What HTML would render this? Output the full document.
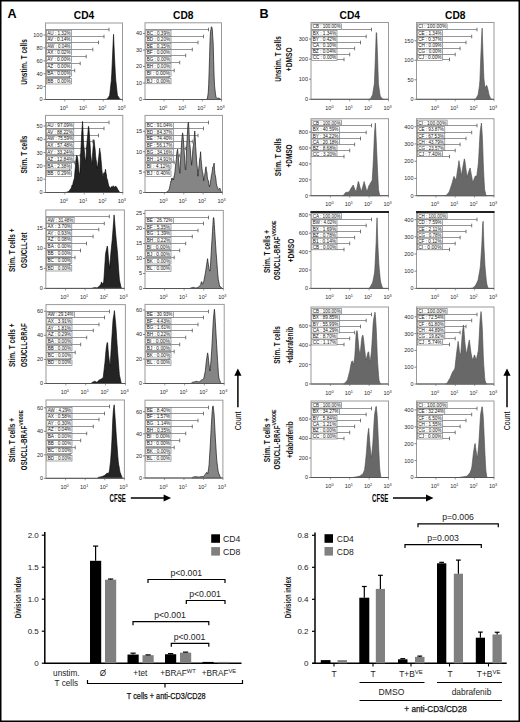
<!DOCTYPE html><html><head><meta charset="utf-8"><style>html,body{margin:0;padding:0;background:#fff;}svg{display:block;}</style></head><body><svg width="520" height="722" viewBox="0 0 520 722">
<rect x="0" y="0" width="520" height="722" fill="#fff"/>
<text x="12.00" y="17.90" font-family="Liberation Sans, sans-serif" font-size="12.6" font-weight="bold" text-anchor="middle" fill="#000" >A</text>
<text x="264.00" y="18.20" font-family="Liberation Sans, sans-serif" font-size="12.6" font-weight="bold" text-anchor="middle" fill="#000" >B</text>
<text x="84.00" y="18.60" font-family="Liberation Sans, sans-serif" font-size="10.2" font-weight="bold" text-anchor="middle" fill="#000" >CD4</text>
<text x="183.25" y="18.60" font-family="Liberation Sans, sans-serif" font-size="10.2" font-weight="bold" text-anchor="middle" fill="#000" >CD8</text>
<text x="349.75" y="18.60" font-family="Liberation Sans, sans-serif" font-size="10.2" font-weight="bold" text-anchor="middle" fill="#000" >CD4</text>
<text x="455.25" y="18.60" font-family="Liberation Sans, sans-serif" font-size="10.2" font-weight="bold" text-anchor="middle" fill="#000" >CD8</text>
<line x1="45.5" y1="29.50" x2="109.00" y2="29.50" stroke="#8a8a8a" stroke-width="0.9"/>
<line x1="109.00" y1="27.70" x2="109.00" y2="31.30" stroke="#666" stroke-width="0.9"/>
<rect x="46.30" y="30.40" width="25.20" height="5.6" fill="#fff" stroke="#6a6a6a" stroke-width="0.6"/>
<text x="47.20" y="34.80" font-family="Liberation Sans, sans-serif" font-size="4.6" fill="#111" textLength="23.40" lengthAdjust="spacingAndGlyphs">AU : 1.32%</text>
<line x1="45.5" y1="36.50" x2="104.00" y2="36.50" stroke="#8a8a8a" stroke-width="0.9"/>
<line x1="104.00" y1="34.70" x2="104.00" y2="38.30" stroke="#666" stroke-width="0.9"/>
<rect x="46.30" y="36.80" width="25.20" height="5.6" fill="#fff" stroke="#6a6a6a" stroke-width="0.6"/>
<text x="47.20" y="41.20" font-family="Liberation Sans, sans-serif" font-size="4.6" fill="#111" textLength="23.40" lengthAdjust="spacingAndGlyphs">AV : 0.14%</text>
<line x1="45.5" y1="42.50" x2="98.50" y2="42.50" stroke="#8a8a8a" stroke-width="0.9"/>
<line x1="98.50" y1="40.70" x2="98.50" y2="44.30" stroke="#666" stroke-width="0.9"/>
<rect x="46.30" y="43.50" width="25.20" height="5.6" fill="#fff" stroke="#6a6a6a" stroke-width="0.6"/>
<text x="47.20" y="47.90" font-family="Liberation Sans, sans-serif" font-size="4.6" fill="#111" textLength="23.40" lengthAdjust="spacingAndGlyphs">AW : 0.04%</text>
<line x1="45.5" y1="49.50" x2="92.80" y2="49.50" stroke="#8a8a8a" stroke-width="0.9"/>
<line x1="92.80" y1="47.70" x2="92.80" y2="51.30" stroke="#666" stroke-width="0.9"/>
<rect x="46.30" y="49.90" width="25.20" height="5.6" fill="#fff" stroke="#6a6a6a" stroke-width="0.6"/>
<text x="47.20" y="54.30" font-family="Liberation Sans, sans-serif" font-size="4.6" fill="#111" textLength="23.40" lengthAdjust="spacingAndGlyphs">AX : 0.02%</text>
<line x1="45.5" y1="56.50" x2="86.20" y2="56.50" stroke="#8a8a8a" stroke-width="0.9"/>
<line x1="86.20" y1="54.70" x2="86.20" y2="58.30" stroke="#666" stroke-width="0.9"/>
<rect x="46.30" y="56.70" width="25.20" height="5.6" fill="#fff" stroke="#6a6a6a" stroke-width="0.6"/>
<text x="47.20" y="61.10" font-family="Liberation Sans, sans-serif" font-size="4.6" fill="#111" textLength="23.40" lengthAdjust="spacingAndGlyphs">AY : 0.00%</text>
<line x1="45.5" y1="63.50" x2="80.20" y2="63.50" stroke="#8a8a8a" stroke-width="0.9"/>
<line x1="80.20" y1="61.70" x2="80.20" y2="65.30" stroke="#666" stroke-width="0.9"/>
<rect x="46.30" y="63.70" width="25.20" height="5.6" fill="#fff" stroke="#6a6a6a" stroke-width="0.6"/>
<text x="47.20" y="68.10" font-family="Liberation Sans, sans-serif" font-size="4.6" fill="#111" textLength="23.40" lengthAdjust="spacingAndGlyphs">AZ : 0.00%</text>
<line x1="45.5" y1="70.50" x2="74.70" y2="70.50" stroke="#8a8a8a" stroke-width="0.9"/>
<line x1="74.70" y1="68.70" x2="74.70" y2="72.30" stroke="#666" stroke-width="0.9"/>
<rect x="46.30" y="71.00" width="25.20" height="5.6" fill="#fff" stroke="#6a6a6a" stroke-width="0.6"/>
<text x="47.20" y="75.40" font-family="Liberation Sans, sans-serif" font-size="4.6" fill="#111" textLength="23.40" lengthAdjust="spacingAndGlyphs">BA : 0.00%</text>
<line x1="45.5" y1="77.50" x2="69.70" y2="77.50" stroke="#8a8a8a" stroke-width="0.9"/>
<line x1="69.70" y1="75.70" x2="69.70" y2="79.30" stroke="#666" stroke-width="0.9"/>
<rect x="46.30" y="78.40" width="25.20" height="5.6" fill="#fff" stroke="#6a6a6a" stroke-width="0.6"/>
<text x="47.20" y="82.80" font-family="Liberation Sans, sans-serif" font-size="4.6" fill="#111" textLength="23.40" lengthAdjust="spacingAndGlyphs">BB : 0.00%</text>
<path d="M105.00,99.50L105.00,99.50L105.45,99.37L105.90,99.24L106.35,99.10L106.80,98.97L107.25,98.85L107.70,98.36L108.15,97.66L108.60,96.99L109.05,96.23L109.50,95.66L109.95,93.02L110.40,88.82L110.85,84.43L111.30,80.63L111.75,73.63L112.20,63.64L112.65,53.99L113.10,43.39L113.55,34.38L114.00,45.22L114.45,56.03L114.90,64.77L115.35,74.06L115.80,80.45L116.25,84.44L116.70,88.75L117.15,93.02L117.60,95.71L118.05,96.30L118.50,96.96L118.95,97.61L119.40,98.31L119.85,98.88L120.30,99.11L120.75,99.37L121.00,99.50Z" fill="#242424" stroke="#000" stroke-width="0.6"/>
<rect x="45.5" y="23" width="77.0" height="76.5" fill="none" stroke="#9a9a9a" stroke-width="1"/>
<line x1="43.5" y1="99.50" x2="45.5" y2="99.50" stroke="#666" stroke-width="0.8"/>
<text x="42.50" y="101.40" font-family="Liberation Sans, sans-serif" font-size="5.5" font-weight="normal" text-anchor="end" fill="#2a2a2a" >0</text>
<line x1="43.5" y1="86.60" x2="45.5" y2="86.60" stroke="#666" stroke-width="0.8"/>
<text x="42.50" y="88.50" font-family="Liberation Sans, sans-serif" font-size="5.5" font-weight="normal" text-anchor="end" fill="#2a2a2a" >20</text>
<line x1="43.5" y1="73.70" x2="45.5" y2="73.70" stroke="#666" stroke-width="0.8"/>
<text x="42.50" y="75.60" font-family="Liberation Sans, sans-serif" font-size="5.5" font-weight="normal" text-anchor="end" fill="#2a2a2a" >40</text>
<line x1="43.5" y1="60.80" x2="45.5" y2="60.80" stroke="#666" stroke-width="0.8"/>
<text x="42.50" y="62.70" font-family="Liberation Sans, sans-serif" font-size="5.5" font-weight="normal" text-anchor="end" fill="#2a2a2a" >60</text>
<line x1="43.5" y1="47.90" x2="45.5" y2="47.90" stroke="#666" stroke-width="0.8"/>
<text x="42.50" y="49.80" font-family="Liberation Sans, sans-serif" font-size="5.5" font-weight="normal" text-anchor="end" fill="#2a2a2a" >80</text>
<line x1="43.5" y1="35.00" x2="45.5" y2="35.00" stroke="#666" stroke-width="0.8"/>
<text x="42.50" y="36.90" font-family="Liberation Sans, sans-serif" font-size="5.5" font-weight="normal" text-anchor="end" fill="#2a2a2a" >100</text>
<line x1="64.75" y1="99.5" x2="64.75" y2="101.5" stroke="#777" stroke-width="0.7"/>
<text x="63.75" y="110.20" font-family="Liberation Sans, sans-serif" font-size="5.5" fill="#2a2a2a" text-anchor="middle">10<tspan dy="-2.2" font-size="3.8">0</tspan></text>
<line x1="84.00" y1="99.5" x2="84.00" y2="101.5" stroke="#777" stroke-width="0.7"/>
<text x="83.00" y="110.20" font-family="Liberation Sans, sans-serif" font-size="5.5" fill="#2a2a2a" text-anchor="middle">10<tspan dy="-2.2" font-size="3.8">1</tspan></text>
<line x1="103.25" y1="99.5" x2="103.25" y2="101.5" stroke="#777" stroke-width="0.7"/>
<text x="102.25" y="110.20" font-family="Liberation Sans, sans-serif" font-size="5.5" fill="#2a2a2a" text-anchor="middle">10<tspan dy="-2.2" font-size="3.8">2</tspan></text>
<line x1="122.50" y1="99.5" x2="122.50" y2="101.5" stroke="#777" stroke-width="0.7"/>
<text x="121.50" y="110.20" font-family="Liberation Sans, sans-serif" font-size="5.5" fill="#2a2a2a" text-anchor="middle">10<tspan dy="-2.2" font-size="3.8">3</tspan></text>
<line x1="45.5" y1="99.5" x2="122.5" y2="99.5" stroke="#555" stroke-width="1"/>
<line x1="145" y1="29.50" x2="208.50" y2="29.50" stroke="#8a8a8a" stroke-width="0.9"/>
<line x1="208.50" y1="27.70" x2="208.50" y2="31.30" stroke="#666" stroke-width="0.9"/>
<rect x="145.80" y="30.20" width="25.20" height="5.6" fill="#fff" stroke="#6a6a6a" stroke-width="0.6"/>
<text x="146.70" y="34.60" font-family="Liberation Sans, sans-serif" font-size="4.6" fill="#111" textLength="23.40" lengthAdjust="spacingAndGlyphs">BC : 0.39%</text>
<line x1="145" y1="36.50" x2="203.50" y2="36.50" stroke="#8a8a8a" stroke-width="0.9"/>
<line x1="203.50" y1="34.70" x2="203.50" y2="38.30" stroke="#666" stroke-width="0.9"/>
<rect x="145.80" y="36.60" width="25.20" height="5.6" fill="#fff" stroke="#6a6a6a" stroke-width="0.6"/>
<text x="146.70" y="41.00" font-family="Liberation Sans, sans-serif" font-size="4.6" fill="#111" textLength="23.40" lengthAdjust="spacingAndGlyphs">BD : 0.20%</text>
<line x1="145" y1="42.50" x2="198.00" y2="42.50" stroke="#8a8a8a" stroke-width="0.9"/>
<line x1="198.00" y1="40.70" x2="198.00" y2="44.30" stroke="#666" stroke-width="0.9"/>
<rect x="145.80" y="43.30" width="25.20" height="5.6" fill="#fff" stroke="#6a6a6a" stroke-width="0.6"/>
<text x="146.70" y="47.70" font-family="Liberation Sans, sans-serif" font-size="4.6" fill="#111" textLength="23.40" lengthAdjust="spacingAndGlyphs">BE : 0.15%</text>
<line x1="145" y1="49.50" x2="192.30" y2="49.50" stroke="#8a8a8a" stroke-width="0.9"/>
<line x1="192.30" y1="47.70" x2="192.30" y2="51.30" stroke="#666" stroke-width="0.9"/>
<rect x="145.80" y="49.70" width="25.20" height="5.6" fill="#fff" stroke="#6a6a6a" stroke-width="0.6"/>
<text x="146.70" y="54.10" font-family="Liberation Sans, sans-serif" font-size="4.6" fill="#111" textLength="23.40" lengthAdjust="spacingAndGlyphs">BF : 0.00%</text>
<line x1="145" y1="55.50" x2="185.70" y2="55.50" stroke="#8a8a8a" stroke-width="0.9"/>
<line x1="185.70" y1="53.70" x2="185.70" y2="57.30" stroke="#666" stroke-width="0.9"/>
<rect x="145.80" y="56.50" width="25.20" height="5.6" fill="#fff" stroke="#6a6a6a" stroke-width="0.6"/>
<text x="146.70" y="60.90" font-family="Liberation Sans, sans-serif" font-size="4.6" fill="#111" textLength="23.40" lengthAdjust="spacingAndGlyphs">BG : 0.00%</text>
<line x1="145" y1="62.50" x2="179.70" y2="62.50" stroke="#8a8a8a" stroke-width="0.9"/>
<line x1="179.70" y1="60.70" x2="179.70" y2="64.30" stroke="#666" stroke-width="0.9"/>
<rect x="145.80" y="63.50" width="25.20" height="5.6" fill="#fff" stroke="#6a6a6a" stroke-width="0.6"/>
<text x="146.70" y="67.90" font-family="Liberation Sans, sans-serif" font-size="4.6" fill="#111" textLength="23.40" lengthAdjust="spacingAndGlyphs">BH : 0.00%</text>
<line x1="145" y1="70.50" x2="174.20" y2="70.50" stroke="#8a8a8a" stroke-width="0.9"/>
<line x1="174.20" y1="68.70" x2="174.20" y2="72.30" stroke="#666" stroke-width="0.9"/>
<rect x="145.80" y="70.80" width="25.20" height="5.6" fill="#fff" stroke="#6a6a6a" stroke-width="0.6"/>
<text x="146.70" y="75.20" font-family="Liberation Sans, sans-serif" font-size="4.6" fill="#111" textLength="23.40" lengthAdjust="spacingAndGlyphs">BI : 0.00%</text>
<line x1="145" y1="77.50" x2="169.20" y2="77.50" stroke="#8a8a8a" stroke-width="0.9"/>
<line x1="169.20" y1="75.70" x2="169.20" y2="79.30" stroke="#666" stroke-width="0.9"/>
<rect x="145.80" y="78.20" width="25.20" height="5.6" fill="#fff" stroke="#6a6a6a" stroke-width="0.6"/>
<text x="146.70" y="82.60" font-family="Liberation Sans, sans-serif" font-size="4.6" fill="#111" textLength="23.40" lengthAdjust="spacingAndGlyphs">BJ : 0.00%</text>
<path d="M206.00,99.50L206.00,99.50L206.45,99.28L206.90,99.06L207.35,98.81L207.80,95.75L208.25,92.58L208.70,84.48L209.15,70.75L209.60,56.38L210.05,40.52L210.50,31.41L210.95,29.40L211.40,26.69L211.85,27.30L212.30,29.34L212.75,36.92L213.20,43.54L213.65,60.95L214.10,76.22L214.55,85.89L215.00,89.75L215.45,93.93L215.90,96.27L216.35,97.91L216.80,98.38L217.25,98.28L217.70,98.20L218.15,98.12L218.60,98.10L219.05,98.07L219.50,98.39L219.95,98.73L220.40,99.08L220.85,99.39L221.00,99.50Z" fill="#858585" stroke="#1a1a1a" stroke-width="0.7"/>
<rect x="145" y="22.8" width="76.5" height="76.7" fill="none" stroke="#9a9a9a" stroke-width="1"/>
<line x1="143" y1="99.50" x2="145" y2="99.50" stroke="#666" stroke-width="0.8"/>
<text x="142.00" y="101.40" font-family="Liberation Sans, sans-serif" font-size="5.5" font-weight="normal" text-anchor="end" fill="#2a2a2a" >0</text>
<line x1="143" y1="83.00" x2="145" y2="83.00" stroke="#666" stroke-width="0.8"/>
<text x="142.00" y="84.90" font-family="Liberation Sans, sans-serif" font-size="5.5" font-weight="normal" text-anchor="end" fill="#2a2a2a" >10</text>
<line x1="143" y1="66.50" x2="145" y2="66.50" stroke="#666" stroke-width="0.8"/>
<text x="142.00" y="68.40" font-family="Liberation Sans, sans-serif" font-size="5.5" font-weight="normal" text-anchor="end" fill="#2a2a2a" >20</text>
<line x1="143" y1="50.00" x2="145" y2="50.00" stroke="#666" stroke-width="0.8"/>
<text x="142.00" y="51.90" font-family="Liberation Sans, sans-serif" font-size="5.5" font-weight="normal" text-anchor="end" fill="#2a2a2a" >30</text>
<line x1="143" y1="33.50" x2="145" y2="33.50" stroke="#666" stroke-width="0.8"/>
<text x="142.00" y="35.40" font-family="Liberation Sans, sans-serif" font-size="5.5" font-weight="normal" text-anchor="end" fill="#2a2a2a" >40</text>
<line x1="164.12" y1="99.5" x2="164.12" y2="101.5" stroke="#777" stroke-width="0.7"/>
<text x="163.12" y="110.20" font-family="Liberation Sans, sans-serif" font-size="5.5" fill="#2a2a2a" text-anchor="middle">10<tspan dy="-2.2" font-size="3.8">0</tspan></text>
<line x1="183.25" y1="99.5" x2="183.25" y2="101.5" stroke="#777" stroke-width="0.7"/>
<text x="182.25" y="110.20" font-family="Liberation Sans, sans-serif" font-size="5.5" fill="#2a2a2a" text-anchor="middle">10<tspan dy="-2.2" font-size="3.8">1</tspan></text>
<line x1="202.38" y1="99.5" x2="202.38" y2="101.5" stroke="#777" stroke-width="0.7"/>
<text x="201.38" y="110.20" font-family="Liberation Sans, sans-serif" font-size="5.5" fill="#2a2a2a" text-anchor="middle">10<tspan dy="-2.2" font-size="3.8">2</tspan></text>
<line x1="221.50" y1="99.5" x2="221.50" y2="101.5" stroke="#777" stroke-width="0.7"/>
<text x="220.50" y="110.20" font-family="Liberation Sans, sans-serif" font-size="5.5" fill="#2a2a2a" text-anchor="middle">10<tspan dy="-2.2" font-size="3.8">3</tspan></text>
<line x1="145" y1="99.5" x2="221.5" y2="99.5" stroke="#555" stroke-width="1"/>
<line x1="45.5" y1="122.50" x2="109.00" y2="122.50" stroke="#8a8a8a" stroke-width="0.9"/>
<line x1="109.00" y1="120.70" x2="109.00" y2="124.30" stroke="#666" stroke-width="0.9"/>
<rect x="46.30" y="122.80" width="27.50" height="5.6" fill="#fff" stroke="#6a6a6a" stroke-width="0.6"/>
<text x="47.20" y="127.20" font-family="Liberation Sans, sans-serif" font-size="4.6" fill="#111" textLength="25.70" lengthAdjust="spacingAndGlyphs">AU : 97.09%</text>
<line x1="45.5" y1="128.50" x2="104.00" y2="128.50" stroke="#8a8a8a" stroke-width="0.9"/>
<line x1="104.00" y1="126.70" x2="104.00" y2="130.30" stroke="#666" stroke-width="0.9"/>
<rect x="46.30" y="129.20" width="27.50" height="5.6" fill="#fff" stroke="#6a6a6a" stroke-width="0.6"/>
<text x="47.20" y="133.60" font-family="Liberation Sans, sans-serif" font-size="4.6" fill="#111" textLength="25.70" lengthAdjust="spacingAndGlyphs">AV : 88.22%</text>
<line x1="45.5" y1="135.50" x2="98.50" y2="135.50" stroke="#8a8a8a" stroke-width="0.9"/>
<line x1="98.50" y1="133.70" x2="98.50" y2="137.30" stroke="#666" stroke-width="0.9"/>
<rect x="46.30" y="135.90" width="27.50" height="5.6" fill="#fff" stroke="#6a6a6a" stroke-width="0.6"/>
<text x="47.20" y="140.30" font-family="Liberation Sans, sans-serif" font-size="4.6" fill="#111" textLength="25.70" lengthAdjust="spacingAndGlyphs">AW : 75.59%</text>
<line x1="45.5" y1="141.50" x2="92.80" y2="141.50" stroke="#8a8a8a" stroke-width="0.9"/>
<line x1="92.80" y1="139.70" x2="92.80" y2="143.30" stroke="#666" stroke-width="0.9"/>
<rect x="46.30" y="142.30" width="27.50" height="5.6" fill="#fff" stroke="#6a6a6a" stroke-width="0.6"/>
<text x="47.20" y="146.70" font-family="Liberation Sans, sans-serif" font-size="4.6" fill="#111" textLength="25.70" lengthAdjust="spacingAndGlyphs">AX : 57.48%</text>
<line x1="45.5" y1="148.50" x2="86.20" y2="148.50" stroke="#8a8a8a" stroke-width="0.9"/>
<line x1="86.20" y1="146.70" x2="86.20" y2="150.30" stroke="#666" stroke-width="0.9"/>
<rect x="46.30" y="149.10" width="27.50" height="5.6" fill="#fff" stroke="#6a6a6a" stroke-width="0.6"/>
<text x="47.20" y="153.50" font-family="Liberation Sans, sans-serif" font-size="4.6" fill="#111" textLength="25.70" lengthAdjust="spacingAndGlyphs">AY : 33.24%</text>
<line x1="45.5" y1="155.50" x2="80.20" y2="155.50" stroke="#8a8a8a" stroke-width="0.9"/>
<line x1="80.20" y1="153.70" x2="80.20" y2="157.30" stroke="#666" stroke-width="0.9"/>
<rect x="46.30" y="156.10" width="27.50" height="5.6" fill="#fff" stroke="#6a6a6a" stroke-width="0.6"/>
<text x="47.20" y="160.50" font-family="Liberation Sans, sans-serif" font-size="4.6" fill="#111" textLength="25.70" lengthAdjust="spacingAndGlyphs">AZ : 12.84%</text>
<line x1="45.5" y1="162.50" x2="74.70" y2="162.50" stroke="#8a8a8a" stroke-width="0.9"/>
<line x1="74.70" y1="160.70" x2="74.70" y2="164.30" stroke="#666" stroke-width="0.9"/>
<rect x="46.30" y="163.40" width="25.20" height="5.6" fill="#fff" stroke="#6a6a6a" stroke-width="0.6"/>
<text x="47.20" y="167.80" font-family="Liberation Sans, sans-serif" font-size="4.6" fill="#111" textLength="23.40" lengthAdjust="spacingAndGlyphs">BA : 2.38%</text>
<line x1="45.5" y1="170.50" x2="69.70" y2="170.50" stroke="#8a8a8a" stroke-width="0.9"/>
<line x1="69.70" y1="168.70" x2="69.70" y2="172.30" stroke="#666" stroke-width="0.9"/>
<rect x="46.30" y="170.80" width="25.20" height="5.6" fill="#fff" stroke="#6a6a6a" stroke-width="0.6"/>
<text x="47.20" y="175.20" font-family="Liberation Sans, sans-serif" font-size="4.6" fill="#111" textLength="23.40" lengthAdjust="spacingAndGlyphs">BB : 0.29%</text>
<path d="M65.00,192.50L65.00,192.50L65.45,192.42L65.90,192.33L66.35,192.25L66.80,192.11L67.25,191.96L67.70,191.75L68.15,191.66L68.60,191.33L69.05,190.96L69.50,190.33L69.95,190.00L70.40,189.06L70.85,188.60L71.30,188.01L71.75,186.08L72.20,184.96L72.65,185.84L73.10,182.59L73.55,181.03L74.00,179.60L74.45,177.80L74.90,172.03L75.35,167.01L75.80,161.34L76.25,157.45L76.70,155.17L77.15,155.92L77.60,158.01L78.05,161.42L78.50,167.11L78.95,172.00L79.40,174.01L79.85,174.12L80.30,161.19L80.75,152.88L81.20,143.48L81.65,134.00L82.10,128.10L82.55,121.44L83.00,130.77L83.45,140.92L83.90,147.12L84.35,150.32L84.80,156.54L85.25,160.35L85.70,161.42L86.15,156.03L86.60,147.97L87.05,141.56L87.50,137.03L87.95,132.39L88.40,126.32L88.85,127.46L89.30,132.84L89.75,140.18L90.20,146.18L90.65,153.95L91.10,158.04L91.55,162.49L92.00,163.41L92.45,156.53L92.90,149.54L93.35,144.65L93.80,139.62L94.25,141.33L94.70,145.95L95.15,149.57L95.60,155.68L96.05,159.60L96.50,161.97L96.95,166.36L97.40,168.26L97.85,164.81L98.30,160.25L98.75,156.63L99.20,152.74L99.65,148.15L100.10,151.22L100.55,153.66L101.00,159.62L101.45,164.53L101.90,170.17L102.35,173.86L102.80,175.73L103.25,175.45L103.70,173.02L104.15,172.75L104.60,173.23L105.05,171.42L105.50,169.29L105.95,172.68L106.40,174.56L106.85,178.43L107.30,179.18L107.75,181.26L108.20,183.39L108.65,185.30L109.10,186.64L109.55,187.03L110.00,187.42L110.45,188.15L110.90,187.78L111.35,186.59L111.80,186.93L112.25,187.11L112.70,186.78L113.15,185.63L113.60,186.77L114.05,186.95L114.50,187.19L114.95,186.77L115.40,185.94L115.85,186.72L116.30,186.76L116.75,187.47L117.20,188.25L117.65,189.18L118.10,189.86L118.55,190.48L119.00,191.22L119.45,191.90L119.90,192.50Z" fill="#242424" stroke="#000" stroke-width="0.6"/>
<rect x="45.5" y="115.4" width="77.3" height="77.1" fill="none" stroke="#9a9a9a" stroke-width="1"/>
<line x1="43.5" y1="192.50" x2="45.5" y2="192.50" stroke="#666" stroke-width="0.8"/>
<text x="42.50" y="194.40" font-family="Liberation Sans, sans-serif" font-size="5.5" font-weight="normal" text-anchor="end" fill="#2a2a2a" >0</text>
<line x1="43.5" y1="179.20" x2="45.5" y2="179.20" stroke="#666" stroke-width="0.8"/>
<text x="42.50" y="181.10" font-family="Liberation Sans, sans-serif" font-size="5.5" font-weight="normal" text-anchor="end" fill="#2a2a2a" >10</text>
<line x1="43.5" y1="165.90" x2="45.5" y2="165.90" stroke="#666" stroke-width="0.8"/>
<text x="42.50" y="167.80" font-family="Liberation Sans, sans-serif" font-size="5.5" font-weight="normal" text-anchor="end" fill="#2a2a2a" >20</text>
<line x1="43.5" y1="152.60" x2="45.5" y2="152.60" stroke="#666" stroke-width="0.8"/>
<text x="42.50" y="154.50" font-family="Liberation Sans, sans-serif" font-size="5.5" font-weight="normal" text-anchor="end" fill="#2a2a2a" >30</text>
<line x1="43.5" y1="139.30" x2="45.5" y2="139.30" stroke="#666" stroke-width="0.8"/>
<text x="42.50" y="141.20" font-family="Liberation Sans, sans-serif" font-size="5.5" font-weight="normal" text-anchor="end" fill="#2a2a2a" >40</text>
<line x1="43.5" y1="126.00" x2="45.5" y2="126.00" stroke="#666" stroke-width="0.8"/>
<text x="42.50" y="127.90" font-family="Liberation Sans, sans-serif" font-size="5.5" font-weight="normal" text-anchor="end" fill="#2a2a2a" >50</text>
<line x1="64.83" y1="192.5" x2="64.83" y2="194.5" stroke="#777" stroke-width="0.7"/>
<text x="63.83" y="203.20" font-family="Liberation Sans, sans-serif" font-size="5.5" fill="#2a2a2a" text-anchor="middle">10<tspan dy="-2.2" font-size="3.8">0</tspan></text>
<line x1="84.15" y1="192.5" x2="84.15" y2="194.5" stroke="#777" stroke-width="0.7"/>
<text x="83.15" y="203.20" font-family="Liberation Sans, sans-serif" font-size="5.5" fill="#2a2a2a" text-anchor="middle">10<tspan dy="-2.2" font-size="3.8">1</tspan></text>
<line x1="103.47" y1="192.5" x2="103.47" y2="194.5" stroke="#777" stroke-width="0.7"/>
<text x="102.47" y="203.20" font-family="Liberation Sans, sans-serif" font-size="5.5" fill="#2a2a2a" text-anchor="middle">10<tspan dy="-2.2" font-size="3.8">2</tspan></text>
<line x1="122.80" y1="192.5" x2="122.80" y2="194.5" stroke="#777" stroke-width="0.7"/>
<text x="121.80" y="203.20" font-family="Liberation Sans, sans-serif" font-size="5.5" fill="#2a2a2a" text-anchor="middle">10<tspan dy="-2.2" font-size="3.8">3</tspan></text>
<line x1="45.5" y1="192.5" x2="122.8" y2="192.5" stroke="#555" stroke-width="1"/>
<line x1="145" y1="122.50" x2="208.50" y2="122.50" stroke="#8a8a8a" stroke-width="0.9"/>
<line x1="208.50" y1="120.70" x2="208.50" y2="124.30" stroke="#666" stroke-width="0.9"/>
<rect x="145.80" y="122.80" width="27.50" height="5.6" fill="#fff" stroke="#6a6a6a" stroke-width="0.6"/>
<text x="146.70" y="127.20" font-family="Liberation Sans, sans-serif" font-size="4.6" fill="#111" textLength="25.70" lengthAdjust="spacingAndGlyphs">BC : 91.04%</text>
<line x1="145" y1="128.50" x2="203.50" y2="128.50" stroke="#8a8a8a" stroke-width="0.9"/>
<line x1="203.50" y1="126.70" x2="203.50" y2="130.30" stroke="#666" stroke-width="0.9"/>
<rect x="145.80" y="129.20" width="27.50" height="5.6" fill="#fff" stroke="#6a6a6a" stroke-width="0.6"/>
<text x="146.70" y="133.60" font-family="Liberation Sans, sans-serif" font-size="4.6" fill="#111" textLength="25.70" lengthAdjust="spacingAndGlyphs">BD : 84.37%</text>
<line x1="145" y1="135.50" x2="198.00" y2="135.50" stroke="#8a8a8a" stroke-width="0.9"/>
<line x1="198.00" y1="133.70" x2="198.00" y2="137.30" stroke="#666" stroke-width="0.9"/>
<rect x="145.80" y="135.90" width="27.50" height="5.6" fill="#fff" stroke="#6a6a6a" stroke-width="0.6"/>
<text x="146.70" y="140.30" font-family="Liberation Sans, sans-serif" font-size="4.6" fill="#111" textLength="25.70" lengthAdjust="spacingAndGlyphs">BE : 74.40%</text>
<line x1="145" y1="141.50" x2="192.30" y2="141.50" stroke="#8a8a8a" stroke-width="0.9"/>
<line x1="192.30" y1="139.70" x2="192.30" y2="143.30" stroke="#666" stroke-width="0.9"/>
<rect x="145.80" y="142.30" width="27.50" height="5.6" fill="#fff" stroke="#6a6a6a" stroke-width="0.6"/>
<text x="146.70" y="146.70" font-family="Liberation Sans, sans-serif" font-size="4.6" fill="#111" textLength="25.70" lengthAdjust="spacingAndGlyphs">BF : 56.17%</text>
<line x1="145" y1="148.50" x2="185.70" y2="148.50" stroke="#8a8a8a" stroke-width="0.9"/>
<line x1="185.70" y1="146.70" x2="185.70" y2="150.30" stroke="#666" stroke-width="0.9"/>
<rect x="145.80" y="149.10" width="27.50" height="5.6" fill="#fff" stroke="#6a6a6a" stroke-width="0.6"/>
<text x="146.70" y="153.50" font-family="Liberation Sans, sans-serif" font-size="4.6" fill="#111" textLength="25.70" lengthAdjust="spacingAndGlyphs">BG : 34.16%</text>
<line x1="145" y1="155.50" x2="179.70" y2="155.50" stroke="#8a8a8a" stroke-width="0.9"/>
<line x1="179.70" y1="153.70" x2="179.70" y2="157.30" stroke="#666" stroke-width="0.9"/>
<rect x="145.80" y="156.10" width="27.50" height="5.6" fill="#fff" stroke="#6a6a6a" stroke-width="0.6"/>
<text x="146.70" y="160.50" font-family="Liberation Sans, sans-serif" font-size="4.6" fill="#111" textLength="25.70" lengthAdjust="spacingAndGlyphs">BH : 14.91%</text>
<line x1="145" y1="162.50" x2="174.20" y2="162.50" stroke="#8a8a8a" stroke-width="0.9"/>
<line x1="174.20" y1="160.70" x2="174.20" y2="164.30" stroke="#666" stroke-width="0.9"/>
<rect x="145.80" y="163.40" width="25.20" height="5.6" fill="#fff" stroke="#6a6a6a" stroke-width="0.6"/>
<text x="146.70" y="167.80" font-family="Liberation Sans, sans-serif" font-size="4.6" fill="#111" textLength="23.40" lengthAdjust="spacingAndGlyphs">BI : 4.12%</text>
<line x1="145" y1="170.50" x2="169.20" y2="170.50" stroke="#8a8a8a" stroke-width="0.9"/>
<line x1="169.20" y1="168.70" x2="169.20" y2="172.30" stroke="#666" stroke-width="0.9"/>
<rect x="145.80" y="170.80" width="25.20" height="5.6" fill="#fff" stroke="#6a6a6a" stroke-width="0.6"/>
<text x="146.70" y="175.20" font-family="Liberation Sans, sans-serif" font-size="4.6" fill="#111" textLength="23.40" lengthAdjust="spacingAndGlyphs">BJ : 0.40%</text>
<path d="M165.50,192.50L165.50,192.50L165.95,192.38L166.40,192.25L166.85,191.99L167.30,191.58L167.75,191.05L168.20,190.82L168.65,190.41L169.10,189.32L169.55,187.98L170.00,185.71L170.45,183.61L170.90,181.02L171.35,180.97L171.80,178.13L172.25,179.75L172.70,178.39L173.15,178.68L173.60,179.87L174.05,175.96L174.50,175.11L174.95,171.88L175.40,166.83L175.85,163.22L176.30,159.42L176.75,153.51L177.20,150.75L177.65,149.22L178.10,154.23L178.55,160.08L179.00,164.81L179.45,171.47L179.90,173.29L180.35,165.25L180.80,155.78L181.25,148.67L181.70,141.79L182.15,136.08L182.60,132.90L183.05,135.97L183.50,141.34L183.95,147.61L184.40,154.64L184.85,162.49L185.30,169.37L185.75,169.98L186.20,159.88L186.65,146.85L187.10,139.75L187.55,130.37L188.00,123.90L188.45,122.25L188.90,129.29L189.35,138.68L189.80,144.38L190.25,148.11L190.70,155.49L191.15,159.82L191.60,165.18L192.05,161.06L192.50,154.12L192.95,148.48L193.40,145.42L193.85,141.93L194.30,137.07L194.75,130.97L195.20,137.49L195.65,146.65L196.10,153.35L196.55,160.02L197.00,165.63L197.45,168.75L197.90,176.21L198.35,172.51L198.80,168.10L199.25,164.28L199.70,158.85L200.15,157.08L200.60,151.74L201.05,159.18L201.50,163.95L201.95,168.33L202.40,171.85L202.85,173.31L203.30,177.56L203.75,180.76L204.20,176.31L204.65,175.88L205.10,172.70L205.55,168.63L206.00,166.72L206.45,171.00L206.90,172.16L207.35,177.99L207.80,179.86L208.25,180.27L208.70,183.55L209.15,185.53L209.60,186.85L210.05,184.53L210.50,180.72L210.95,179.23L211.40,175.53L211.85,173.83L212.30,171.14L212.75,167.08L213.20,166.72L213.65,165.25L214.10,163.13L214.55,169.85L215.00,174.48L215.45,176.00L215.90,179.02L216.35,183.41L216.80,186.07L217.25,186.88L217.70,187.63L218.15,189.35L218.60,189.69L219.05,189.23L219.50,188.56L219.95,188.15L220.40,189.77L220.85,191.04L221.30,191.96L221.50,192.50Z" fill="#858585" stroke="#1a1a1a" stroke-width="0.7"/>
<rect x="145" y="115.4" width="77.5" height="77.1" fill="none" stroke="#9a9a9a" stroke-width="1"/>
<line x1="143" y1="192.50" x2="145" y2="192.50" stroke="#666" stroke-width="0.8"/>
<text x="142.00" y="194.40" font-family="Liberation Sans, sans-serif" font-size="5.5" font-weight="normal" text-anchor="end" fill="#2a2a2a" >0</text>
<line x1="143" y1="172.10" x2="145" y2="172.10" stroke="#666" stroke-width="0.8"/>
<text x="142.00" y="174.00" font-family="Liberation Sans, sans-serif" font-size="5.5" font-weight="normal" text-anchor="end" fill="#2a2a2a" >5</text>
<line x1="143" y1="151.70" x2="145" y2="151.70" stroke="#666" stroke-width="0.8"/>
<text x="142.00" y="153.60" font-family="Liberation Sans, sans-serif" font-size="5.5" font-weight="normal" text-anchor="end" fill="#2a2a2a" >10</text>
<line x1="143" y1="131.30" x2="145" y2="131.30" stroke="#666" stroke-width="0.8"/>
<text x="142.00" y="133.20" font-family="Liberation Sans, sans-serif" font-size="5.5" font-weight="normal" text-anchor="end" fill="#2a2a2a" >15</text>
<line x1="164.38" y1="192.5" x2="164.38" y2="194.5" stroke="#777" stroke-width="0.7"/>
<text x="163.38" y="203.20" font-family="Liberation Sans, sans-serif" font-size="5.5" fill="#2a2a2a" text-anchor="middle">10<tspan dy="-2.2" font-size="3.8">0</tspan></text>
<line x1="183.75" y1="192.5" x2="183.75" y2="194.5" stroke="#777" stroke-width="0.7"/>
<text x="182.75" y="203.20" font-family="Liberation Sans, sans-serif" font-size="5.5" fill="#2a2a2a" text-anchor="middle">10<tspan dy="-2.2" font-size="3.8">1</tspan></text>
<line x1="203.12" y1="192.5" x2="203.12" y2="194.5" stroke="#777" stroke-width="0.7"/>
<text x="202.12" y="203.20" font-family="Liberation Sans, sans-serif" font-size="5.5" fill="#2a2a2a" text-anchor="middle">10<tspan dy="-2.2" font-size="3.8">2</tspan></text>
<line x1="222.50" y1="192.5" x2="222.50" y2="194.5" stroke="#777" stroke-width="0.7"/>
<text x="221.50" y="203.20" font-family="Liberation Sans, sans-serif" font-size="5.5" fill="#2a2a2a" text-anchor="middle">10<tspan dy="-2.2" font-size="3.8">3</tspan></text>
<line x1="145" y1="192.5" x2="222.5" y2="192.5" stroke="#555" stroke-width="1"/>
<line x1="45.8" y1="216.50" x2="109.30" y2="216.50" stroke="#8a8a8a" stroke-width="0.9"/>
<line x1="109.30" y1="214.70" x2="109.30" y2="218.30" stroke="#666" stroke-width="0.9"/>
<rect x="46.60" y="217.40" width="27.50" height="5.6" fill="#fff" stroke="#6a6a6a" stroke-width="0.6"/>
<text x="47.50" y="221.80" font-family="Liberation Sans, sans-serif" font-size="4.6" fill="#111" textLength="25.70" lengthAdjust="spacingAndGlyphs">AW : 31.48%</text>
<line x1="45.8" y1="223.50" x2="104.30" y2="223.50" stroke="#8a8a8a" stroke-width="0.9"/>
<line x1="104.30" y1="221.70" x2="104.30" y2="225.30" stroke="#666" stroke-width="0.9"/>
<rect x="46.60" y="223.80" width="25.20" height="5.6" fill="#fff" stroke="#6a6a6a" stroke-width="0.6"/>
<text x="47.50" y="228.20" font-family="Liberation Sans, sans-serif" font-size="4.6" fill="#111" textLength="23.40" lengthAdjust="spacingAndGlyphs">AX : 3.70%</text>
<line x1="45.8" y1="229.50" x2="98.80" y2="229.50" stroke="#8a8a8a" stroke-width="0.9"/>
<line x1="98.80" y1="227.70" x2="98.80" y2="231.30" stroke="#666" stroke-width="0.9"/>
<rect x="46.60" y="230.50" width="25.20" height="5.6" fill="#fff" stroke="#6a6a6a" stroke-width="0.6"/>
<text x="47.50" y="234.90" font-family="Liberation Sans, sans-serif" font-size="4.6" fill="#111" textLength="23.40" lengthAdjust="spacingAndGlyphs">AY : 0.93%</text>
<line x1="45.8" y1="236.50" x2="93.10" y2="236.50" stroke="#8a8a8a" stroke-width="0.9"/>
<line x1="93.10" y1="234.70" x2="93.10" y2="238.30" stroke="#666" stroke-width="0.9"/>
<rect x="46.60" y="236.90" width="25.20" height="5.6" fill="#fff" stroke="#6a6a6a" stroke-width="0.6"/>
<text x="47.50" y="241.30" font-family="Liberation Sans, sans-serif" font-size="4.6" fill="#111" textLength="23.40" lengthAdjust="spacingAndGlyphs">AZ : 0.08%</text>
<line x1="45.8" y1="243.50" x2="86.50" y2="243.50" stroke="#8a8a8a" stroke-width="0.9"/>
<line x1="86.50" y1="241.70" x2="86.50" y2="245.30" stroke="#666" stroke-width="0.9"/>
<rect x="46.60" y="243.70" width="25.20" height="5.6" fill="#fff" stroke="#6a6a6a" stroke-width="0.6"/>
<text x="47.50" y="248.10" font-family="Liberation Sans, sans-serif" font-size="4.6" fill="#111" textLength="23.40" lengthAdjust="spacingAndGlyphs">BA : 0.00%</text>
<line x1="45.8" y1="250.50" x2="80.50" y2="250.50" stroke="#8a8a8a" stroke-width="0.9"/>
<line x1="80.50" y1="248.70" x2="80.50" y2="252.30" stroke="#666" stroke-width="0.9"/>
<rect x="46.60" y="250.70" width="25.20" height="5.6" fill="#fff" stroke="#6a6a6a" stroke-width="0.6"/>
<text x="47.50" y="255.10" font-family="Liberation Sans, sans-serif" font-size="4.6" fill="#111" textLength="23.40" lengthAdjust="spacingAndGlyphs">BB : 0.00%</text>
<line x1="45.8" y1="257.50" x2="75.00" y2="257.50" stroke="#8a8a8a" stroke-width="0.9"/>
<line x1="75.00" y1="255.70" x2="75.00" y2="259.30" stroke="#666" stroke-width="0.9"/>
<rect x="46.60" y="258.00" width="25.20" height="5.6" fill="#fff" stroke="#6a6a6a" stroke-width="0.6"/>
<text x="47.50" y="262.40" font-family="Liberation Sans, sans-serif" font-size="4.6" fill="#111" textLength="23.40" lengthAdjust="spacingAndGlyphs">BC : 0.00%</text>
<line x1="45.8" y1="264.50" x2="70.00" y2="264.50" stroke="#8a8a8a" stroke-width="0.9"/>
<line x1="70.00" y1="262.70" x2="70.00" y2="266.30" stroke="#666" stroke-width="0.9"/>
<rect x="46.60" y="265.40" width="25.20" height="5.6" fill="#fff" stroke="#6a6a6a" stroke-width="0.6"/>
<text x="47.50" y="269.80" font-family="Liberation Sans, sans-serif" font-size="4.6" fill="#111" textLength="23.40" lengthAdjust="spacingAndGlyphs">BD : 0.00%</text>
<path d="M92.00,288.40L92.00,288.30L92.45,288.18L92.90,288.05L93.35,287.93L93.80,287.81L94.25,287.68L94.70,287.59L95.15,287.53L95.60,287.63L96.05,287.75L96.50,287.87L96.95,288.00L97.40,287.70L97.85,287.33L98.30,287.06L98.75,286.71L99.20,286.19L99.65,285.70L100.10,285.19L100.55,284.61L101.00,283.88L101.45,281.91L101.90,282.79L102.35,284.03L102.80,283.74L103.25,282.83L103.70,282.01L104.15,275.86L104.60,268.98L105.05,261.63L105.50,254.25L105.95,251.78L106.40,250.03L106.85,247.64L107.30,245.99L107.75,248.61L108.20,254.98L108.65,259.85L109.10,264.43L109.55,268.55L110.00,263.36L110.45,258.36L110.90,252.68L111.35,247.89L111.80,243.81L112.25,239.19L112.70,233.66L113.15,227.53L113.60,221.52L114.05,214.88L114.50,219.23L114.95,224.93L115.40,230.75L115.85,235.73L116.30,240.48L116.75,245.20L117.20,249.53L117.65,254.68L118.10,261.57L118.55,268.45L119.00,274.75L119.45,279.99L119.90,282.15L120.35,284.10L120.80,286.31L121.25,287.57L121.70,287.99L122.00,288.40Z" fill="#242424" stroke="#000" stroke-width="0.6"/>
<rect x="45.8" y="210" width="78.60000000000001" height="78.39999999999998" fill="none" stroke="#9a9a9a" stroke-width="1"/>
<line x1="43.8" y1="288.40" x2="45.8" y2="288.40" stroke="#666" stroke-width="0.8"/>
<text x="42.80" y="290.30" font-family="Liberation Sans, sans-serif" font-size="5.5" font-weight="normal" text-anchor="end" fill="#2a2a2a" >0</text>
<line x1="43.8" y1="268.40" x2="45.8" y2="268.40" stroke="#666" stroke-width="0.8"/>
<text x="42.80" y="270.30" font-family="Liberation Sans, sans-serif" font-size="5.5" font-weight="normal" text-anchor="end" fill="#2a2a2a" >5</text>
<line x1="43.8" y1="248.40" x2="45.8" y2="248.40" stroke="#666" stroke-width="0.8"/>
<text x="42.80" y="250.30" font-family="Liberation Sans, sans-serif" font-size="5.5" font-weight="normal" text-anchor="end" fill="#2a2a2a" >10</text>
<line x1="43.8" y1="228.40" x2="45.8" y2="228.40" stroke="#666" stroke-width="0.8"/>
<text x="42.80" y="230.30" font-family="Liberation Sans, sans-serif" font-size="5.5" font-weight="normal" text-anchor="end" fill="#2a2a2a" >15</text>
<line x1="65.45" y1="288.4" x2="65.45" y2="290.4" stroke="#777" stroke-width="0.7"/>
<text x="64.45" y="299.10" font-family="Liberation Sans, sans-serif" font-size="5.5" fill="#2a2a2a" text-anchor="middle">10<tspan dy="-2.2" font-size="3.8">0</tspan></text>
<line x1="85.10" y1="288.4" x2="85.10" y2="290.4" stroke="#777" stroke-width="0.7"/>
<text x="84.10" y="299.10" font-family="Liberation Sans, sans-serif" font-size="5.5" fill="#2a2a2a" text-anchor="middle">10<tspan dy="-2.2" font-size="3.8">1</tspan></text>
<line x1="104.75" y1="288.4" x2="104.75" y2="290.4" stroke="#777" stroke-width="0.7"/>
<text x="103.75" y="299.10" font-family="Liberation Sans, sans-serif" font-size="5.5" fill="#2a2a2a" text-anchor="middle">10<tspan dy="-2.2" font-size="3.8">2</tspan></text>
<line x1="124.40" y1="288.4" x2="124.40" y2="290.4" stroke="#777" stroke-width="0.7"/>
<text x="123.40" y="299.10" font-family="Liberation Sans, sans-serif" font-size="5.5" fill="#2a2a2a" text-anchor="middle">10<tspan dy="-2.2" font-size="3.8">3</tspan></text>
<line x1="45.8" y1="288.4" x2="124.4" y2="288.4" stroke="#555" stroke-width="1"/>
<line x1="145" y1="217.50" x2="208.50" y2="217.50" stroke="#8a8a8a" stroke-width="0.9"/>
<line x1="208.50" y1="215.70" x2="208.50" y2="219.30" stroke="#666" stroke-width="0.9"/>
<rect x="145.80" y="217.80" width="27.50" height="5.6" fill="#fff" stroke="#6a6a6a" stroke-width="0.6"/>
<text x="146.70" y="222.20" font-family="Liberation Sans, sans-serif" font-size="4.6" fill="#111" textLength="25.70" lengthAdjust="spacingAndGlyphs">BE : 26.72%</text>
<line x1="145" y1="223.50" x2="203.50" y2="223.50" stroke="#8a8a8a" stroke-width="0.9"/>
<line x1="203.50" y1="221.70" x2="203.50" y2="225.30" stroke="#666" stroke-width="0.9"/>
<rect x="145.80" y="224.20" width="25.20" height="5.6" fill="#fff" stroke="#6a6a6a" stroke-width="0.6"/>
<text x="146.70" y="228.60" font-family="Liberation Sans, sans-serif" font-size="4.6" fill="#111" textLength="23.40" lengthAdjust="spacingAndGlyphs">BF : 5.35%</text>
<line x1="145" y1="230.50" x2="198.00" y2="230.50" stroke="#8a8a8a" stroke-width="0.9"/>
<line x1="198.00" y1="228.70" x2="198.00" y2="232.30" stroke="#666" stroke-width="0.9"/>
<rect x="145.80" y="230.90" width="25.20" height="5.6" fill="#fff" stroke="#6a6a6a" stroke-width="0.6"/>
<text x="146.70" y="235.30" font-family="Liberation Sans, sans-serif" font-size="4.6" fill="#111" textLength="23.40" lengthAdjust="spacingAndGlyphs">BG : 1.39%</text>
<line x1="145" y1="236.50" x2="192.30" y2="236.50" stroke="#8a8a8a" stroke-width="0.9"/>
<line x1="192.30" y1="234.70" x2="192.30" y2="238.30" stroke="#666" stroke-width="0.9"/>
<rect x="145.80" y="237.30" width="25.20" height="5.6" fill="#fff" stroke="#6a6a6a" stroke-width="0.6"/>
<text x="146.70" y="241.70" font-family="Liberation Sans, sans-serif" font-size="4.6" fill="#111" textLength="23.40" lengthAdjust="spacingAndGlyphs">BH : 0.22%</text>
<line x1="145" y1="243.50" x2="185.70" y2="243.50" stroke="#8a8a8a" stroke-width="0.9"/>
<line x1="185.70" y1="241.70" x2="185.70" y2="245.30" stroke="#666" stroke-width="0.9"/>
<rect x="145.80" y="244.10" width="25.20" height="5.6" fill="#fff" stroke="#6a6a6a" stroke-width="0.6"/>
<text x="146.70" y="248.50" font-family="Liberation Sans, sans-serif" font-size="4.6" fill="#111" textLength="23.40" lengthAdjust="spacingAndGlyphs">BI : 0.00%</text>
<line x1="145" y1="250.50" x2="179.70" y2="250.50" stroke="#8a8a8a" stroke-width="0.9"/>
<line x1="179.70" y1="248.70" x2="179.70" y2="252.30" stroke="#666" stroke-width="0.9"/>
<rect x="145.80" y="251.10" width="25.20" height="5.6" fill="#fff" stroke="#6a6a6a" stroke-width="0.6"/>
<text x="146.70" y="255.50" font-family="Liberation Sans, sans-serif" font-size="4.6" fill="#111" textLength="23.40" lengthAdjust="spacingAndGlyphs">BJ : 0.00%</text>
<line x1="145" y1="257.50" x2="174.20" y2="257.50" stroke="#8a8a8a" stroke-width="0.9"/>
<line x1="174.20" y1="255.70" x2="174.20" y2="259.30" stroke="#666" stroke-width="0.9"/>
<rect x="145.80" y="258.40" width="25.20" height="5.6" fill="#fff" stroke="#6a6a6a" stroke-width="0.6"/>
<text x="146.70" y="262.80" font-family="Liberation Sans, sans-serif" font-size="4.6" fill="#111" textLength="23.40" lengthAdjust="spacingAndGlyphs">BK : 0.00%</text>
<line x1="145" y1="265.50" x2="169.20" y2="265.50" stroke="#8a8a8a" stroke-width="0.9"/>
<line x1="169.20" y1="263.70" x2="169.20" y2="267.30" stroke="#666" stroke-width="0.9"/>
<rect x="145.80" y="265.80" width="25.20" height="5.6" fill="#fff" stroke="#6a6a6a" stroke-width="0.6"/>
<text x="146.70" y="270.20" font-family="Liberation Sans, sans-serif" font-size="4.6" fill="#111" textLength="23.40" lengthAdjust="spacingAndGlyphs">BL : 0.00%</text>
<path d="M190.00,288.50L190.00,288.30L190.45,288.16L190.90,287.99L191.35,287.84L191.80,287.70L192.25,287.57L192.70,287.38L193.15,287.31L193.60,287.44L194.05,287.54L194.50,287.66L194.95,287.78L195.40,287.87L195.85,287.96L196.30,287.92L196.75,287.74L197.20,287.62L197.65,287.47L198.10,287.34L198.55,287.11L199.00,286.98L199.45,286.27L199.90,285.63L200.35,285.08L200.80,284.35L201.25,282.20L201.70,281.61L202.15,283.59L202.60,283.96L203.05,283.18L203.50,282.05L203.95,280.98L204.40,278.06L204.85,275.96L205.30,273.44L205.75,270.80L206.20,267.58L206.65,264.72L207.10,261.73L207.55,258.65L208.00,262.25L208.45,264.90L208.90,268.45L209.35,269.64L209.80,271.13L210.25,269.56L210.70,261.64L211.15,253.87L211.60,245.83L212.05,238.89L212.50,231.55L212.95,224.22L213.40,217.67L213.85,217.76L214.30,224.62L214.75,231.84L215.20,238.77L215.65,245.61L216.10,252.56L216.55,258.03L217.00,264.21L217.45,270.19L217.90,275.83L218.35,279.88L218.80,281.91L219.25,284.24L219.70,286.36L220.15,287.07L220.60,286.65L221.05,287.09L221.50,288.07L221.60,288.50Z" fill="#858585" stroke="#1a1a1a" stroke-width="0.7"/>
<rect x="145" y="210.4" width="78.30000000000001" height="78.1" fill="none" stroke="#9a9a9a" stroke-width="1"/>
<line x1="143" y1="288.50" x2="145" y2="288.50" stroke="#666" stroke-width="0.8"/>
<text x="142.00" y="290.40" font-family="Liberation Sans, sans-serif" font-size="5.5" font-weight="normal" text-anchor="end" fill="#2a2a2a" >0</text>
<line x1="143" y1="273.50" x2="145" y2="273.50" stroke="#666" stroke-width="0.8"/>
<text x="142.00" y="275.40" font-family="Liberation Sans, sans-serif" font-size="5.5" font-weight="normal" text-anchor="end" fill="#2a2a2a" >5</text>
<line x1="143" y1="258.50" x2="145" y2="258.50" stroke="#666" stroke-width="0.8"/>
<text x="142.00" y="260.40" font-family="Liberation Sans, sans-serif" font-size="5.5" font-weight="normal" text-anchor="end" fill="#2a2a2a" >10</text>
<line x1="143" y1="243.50" x2="145" y2="243.50" stroke="#666" stroke-width="0.8"/>
<text x="142.00" y="245.40" font-family="Liberation Sans, sans-serif" font-size="5.5" font-weight="normal" text-anchor="end" fill="#2a2a2a" >15</text>
<line x1="143" y1="228.50" x2="145" y2="228.50" stroke="#666" stroke-width="0.8"/>
<text x="142.00" y="230.40" font-family="Liberation Sans, sans-serif" font-size="5.5" font-weight="normal" text-anchor="end" fill="#2a2a2a" >20</text>
<line x1="143" y1="213.50" x2="145" y2="213.50" stroke="#666" stroke-width="0.8"/>
<text x="142.00" y="215.40" font-family="Liberation Sans, sans-serif" font-size="5.5" font-weight="normal" text-anchor="end" fill="#2a2a2a" >25</text>
<line x1="164.57" y1="288.5" x2="164.57" y2="290.5" stroke="#777" stroke-width="0.7"/>
<text x="163.57" y="299.20" font-family="Liberation Sans, sans-serif" font-size="5.5" fill="#2a2a2a" text-anchor="middle">10<tspan dy="-2.2" font-size="3.8">0</tspan></text>
<line x1="184.15" y1="288.5" x2="184.15" y2="290.5" stroke="#777" stroke-width="0.7"/>
<text x="183.15" y="299.20" font-family="Liberation Sans, sans-serif" font-size="5.5" fill="#2a2a2a" text-anchor="middle">10<tspan dy="-2.2" font-size="3.8">1</tspan></text>
<line x1="203.73" y1="288.5" x2="203.73" y2="290.5" stroke="#777" stroke-width="0.7"/>
<text x="202.73" y="299.20" font-family="Liberation Sans, sans-serif" font-size="5.5" fill="#2a2a2a" text-anchor="middle">10<tspan dy="-2.2" font-size="3.8">2</tspan></text>
<line x1="223.30" y1="288.5" x2="223.30" y2="290.5" stroke="#777" stroke-width="0.7"/>
<text x="222.30" y="299.20" font-family="Liberation Sans, sans-serif" font-size="5.5" fill="#2a2a2a" text-anchor="middle">10<tspan dy="-2.2" font-size="3.8">3</tspan></text>
<line x1="145" y1="288.5" x2="223.3" y2="288.5" stroke="#555" stroke-width="1"/>
<line x1="46" y1="311.50" x2="109.50" y2="311.50" stroke="#8a8a8a" stroke-width="0.9"/>
<line x1="109.50" y1="309.70" x2="109.50" y2="313.30" stroke="#666" stroke-width="0.9"/>
<rect x="46.80" y="312.00" width="27.50" height="5.6" fill="#fff" stroke="#6a6a6a" stroke-width="0.6"/>
<text x="47.70" y="316.40" font-family="Liberation Sans, sans-serif" font-size="4.6" fill="#111" textLength="25.70" lengthAdjust="spacingAndGlyphs">AW : 29.14%</text>
<line x1="46" y1="317.50" x2="104.50" y2="317.50" stroke="#8a8a8a" stroke-width="0.9"/>
<line x1="104.50" y1="315.70" x2="104.50" y2="319.30" stroke="#666" stroke-width="0.9"/>
<rect x="46.80" y="318.40" width="25.20" height="5.6" fill="#fff" stroke="#6a6a6a" stroke-width="0.6"/>
<text x="47.70" y="322.80" font-family="Liberation Sans, sans-serif" font-size="4.6" fill="#111" textLength="23.40" lengthAdjust="spacingAndGlyphs">AX : 3.91%</text>
<line x1="46" y1="324.50" x2="99.00" y2="324.50" stroke="#8a8a8a" stroke-width="0.9"/>
<line x1="99.00" y1="322.70" x2="99.00" y2="326.30" stroke="#666" stroke-width="0.9"/>
<rect x="46.80" y="325.10" width="25.20" height="5.6" fill="#fff" stroke="#6a6a6a" stroke-width="0.6"/>
<text x="47.70" y="329.50" font-family="Liberation Sans, sans-serif" font-size="4.6" fill="#111" textLength="23.40" lengthAdjust="spacingAndGlyphs">AY : 1.81%</text>
<line x1="46" y1="330.50" x2="93.30" y2="330.50" stroke="#8a8a8a" stroke-width="0.9"/>
<line x1="93.30" y1="328.70" x2="93.30" y2="332.30" stroke="#666" stroke-width="0.9"/>
<rect x="46.80" y="331.50" width="25.20" height="5.6" fill="#fff" stroke="#6a6a6a" stroke-width="0.6"/>
<text x="47.70" y="335.90" font-family="Liberation Sans, sans-serif" font-size="4.6" fill="#111" textLength="23.40" lengthAdjust="spacingAndGlyphs">AZ : 0.29%</text>
<line x1="46" y1="337.50" x2="86.70" y2="337.50" stroke="#8a8a8a" stroke-width="0.9"/>
<line x1="86.70" y1="335.70" x2="86.70" y2="339.30" stroke="#666" stroke-width="0.9"/>
<rect x="46.80" y="338.30" width="25.20" height="5.6" fill="#fff" stroke="#6a6a6a" stroke-width="0.6"/>
<text x="47.70" y="342.70" font-family="Liberation Sans, sans-serif" font-size="4.6" fill="#111" textLength="23.40" lengthAdjust="spacingAndGlyphs">BA : 0.00%</text>
<line x1="46" y1="344.50" x2="80.70" y2="344.50" stroke="#8a8a8a" stroke-width="0.9"/>
<line x1="80.70" y1="342.70" x2="80.70" y2="346.30" stroke="#666" stroke-width="0.9"/>
<rect x="46.80" y="345.30" width="25.20" height="5.6" fill="#fff" stroke="#6a6a6a" stroke-width="0.6"/>
<text x="47.70" y="349.70" font-family="Liberation Sans, sans-serif" font-size="4.6" fill="#111" textLength="23.40" lengthAdjust="spacingAndGlyphs">BB : 0.00%</text>
<line x1="46" y1="352.50" x2="75.20" y2="352.50" stroke="#8a8a8a" stroke-width="0.9"/>
<line x1="75.20" y1="350.70" x2="75.20" y2="354.30" stroke="#666" stroke-width="0.9"/>
<rect x="46.80" y="352.60" width="25.20" height="5.6" fill="#fff" stroke="#6a6a6a" stroke-width="0.6"/>
<text x="47.70" y="357.00" font-family="Liberation Sans, sans-serif" font-size="4.6" fill="#111" textLength="23.40" lengthAdjust="spacingAndGlyphs">BC : 0.00%</text>
<line x1="46" y1="359.50" x2="70.20" y2="359.50" stroke="#8a8a8a" stroke-width="0.9"/>
<line x1="70.20" y1="357.70" x2="70.20" y2="361.30" stroke="#666" stroke-width="0.9"/>
<rect x="46.80" y="360.00" width="25.20" height="5.6" fill="#fff" stroke="#6a6a6a" stroke-width="0.6"/>
<text x="47.70" y="364.40" font-family="Liberation Sans, sans-serif" font-size="4.6" fill="#111" textLength="23.40" lengthAdjust="spacingAndGlyphs">BD : 0.00%</text>
<path d="M91.00,383.50L91.00,383.50L91.45,383.08L91.90,382.68L92.35,382.31L92.80,382.05L93.25,381.88L93.70,381.66L94.15,381.43L94.60,381.18L95.05,381.34L95.50,381.62L95.95,381.76L96.40,381.98L96.85,382.25L97.30,382.03L97.75,381.56L98.20,380.99L98.65,380.56L99.10,380.01L99.55,379.72L100.00,379.58L100.45,379.39L100.90,379.31L101.35,379.12L101.80,378.59L102.25,378.31L102.70,377.96L103.15,377.71L103.60,374.09L104.05,370.14L104.50,365.99L104.95,362.54L105.40,357.05L105.85,352.03L106.30,347.51L106.75,344.71L107.20,342.44L107.65,342.94L108.10,349.41L108.55,354.97L109.00,358.25L109.45,362.20L109.90,365.58L110.35,363.25L110.80,355.31L111.25,347.81L111.70,340.35L112.15,333.44L112.60,326.15L113.05,319.51L113.50,316.90L113.95,314.30L114.40,310.65L114.85,315.14L115.30,320.02L115.75,324.51L116.20,330.25L116.65,337.70L117.10,344.60L117.55,350.84L118.00,356.85L118.45,362.83L118.90,368.71L119.35,374.53L119.80,376.69L120.25,378.86L120.70,380.94L121.15,382.49L121.60,383.02L122.00,383.50Z" fill="#242424" stroke="#000" stroke-width="0.6"/>
<rect x="46" y="304.6" width="79.4" height="78.89999999999998" fill="none" stroke="#9a9a9a" stroke-width="1"/>
<line x1="44" y1="383.50" x2="46" y2="383.50" stroke="#666" stroke-width="0.8"/>
<text x="43.00" y="385.40" font-family="Liberation Sans, sans-serif" font-size="5.5" font-weight="normal" text-anchor="end" fill="#2a2a2a" >0</text>
<line x1="44" y1="359.40" x2="46" y2="359.40" stroke="#666" stroke-width="0.8"/>
<text x="43.00" y="361.30" font-family="Liberation Sans, sans-serif" font-size="5.5" font-weight="normal" text-anchor="end" fill="#2a2a2a" >20</text>
<line x1="44" y1="335.30" x2="46" y2="335.30" stroke="#666" stroke-width="0.8"/>
<text x="43.00" y="337.20" font-family="Liberation Sans, sans-serif" font-size="5.5" font-weight="normal" text-anchor="end" fill="#2a2a2a" >40</text>
<line x1="44" y1="311.20" x2="46" y2="311.20" stroke="#666" stroke-width="0.8"/>
<text x="43.00" y="313.10" font-family="Liberation Sans, sans-serif" font-size="5.5" font-weight="normal" text-anchor="end" fill="#2a2a2a" >60</text>
<line x1="65.85" y1="383.5" x2="65.85" y2="385.5" stroke="#777" stroke-width="0.7"/>
<text x="64.85" y="394.20" font-family="Liberation Sans, sans-serif" font-size="5.5" fill="#2a2a2a" text-anchor="middle">10<tspan dy="-2.2" font-size="3.8">0</tspan></text>
<line x1="85.70" y1="383.5" x2="85.70" y2="385.5" stroke="#777" stroke-width="0.7"/>
<text x="84.70" y="394.20" font-family="Liberation Sans, sans-serif" font-size="5.5" fill="#2a2a2a" text-anchor="middle">10<tspan dy="-2.2" font-size="3.8">1</tspan></text>
<line x1="105.55" y1="383.5" x2="105.55" y2="385.5" stroke="#777" stroke-width="0.7"/>
<text x="104.55" y="394.20" font-family="Liberation Sans, sans-serif" font-size="5.5" fill="#2a2a2a" text-anchor="middle">10<tspan dy="-2.2" font-size="3.8">2</tspan></text>
<line x1="125.40" y1="383.5" x2="125.40" y2="385.5" stroke="#777" stroke-width="0.7"/>
<text x="124.40" y="394.20" font-family="Liberation Sans, sans-serif" font-size="5.5" fill="#2a2a2a" text-anchor="middle">10<tspan dy="-2.2" font-size="3.8">3</tspan></text>
<line x1="46" y1="383.5" x2="125.4" y2="383.5" stroke="#555" stroke-width="1"/>
<line x1="145" y1="311.50" x2="208.50" y2="311.50" stroke="#8a8a8a" stroke-width="0.9"/>
<line x1="208.50" y1="309.70" x2="208.50" y2="313.30" stroke="#666" stroke-width="0.9"/>
<rect x="145.80" y="311.80" width="27.50" height="5.6" fill="#fff" stroke="#6a6a6a" stroke-width="0.6"/>
<text x="146.70" y="316.20" font-family="Liberation Sans, sans-serif" font-size="4.6" fill="#111" textLength="25.70" lengthAdjust="spacingAndGlyphs">BE : 30.93%</text>
<line x1="145" y1="317.50" x2="203.50" y2="317.50" stroke="#8a8a8a" stroke-width="0.9"/>
<line x1="203.50" y1="315.70" x2="203.50" y2="319.30" stroke="#666" stroke-width="0.9"/>
<rect x="145.80" y="318.20" width="25.20" height="5.6" fill="#fff" stroke="#6a6a6a" stroke-width="0.6"/>
<text x="146.70" y="322.60" font-family="Liberation Sans, sans-serif" font-size="4.6" fill="#111" textLength="23.40" lengthAdjust="spacingAndGlyphs">BF : 4.43%</text>
<line x1="145" y1="324.50" x2="198.00" y2="324.50" stroke="#8a8a8a" stroke-width="0.9"/>
<line x1="198.00" y1="322.70" x2="198.00" y2="326.30" stroke="#666" stroke-width="0.9"/>
<rect x="145.80" y="324.90" width="25.20" height="5.6" fill="#fff" stroke="#6a6a6a" stroke-width="0.6"/>
<text x="146.70" y="329.30" font-family="Liberation Sans, sans-serif" font-size="4.6" fill="#111" textLength="23.40" lengthAdjust="spacingAndGlyphs">BG : 1.61%</text>
<line x1="145" y1="330.50" x2="192.30" y2="330.50" stroke="#8a8a8a" stroke-width="0.9"/>
<line x1="192.30" y1="328.70" x2="192.30" y2="332.30" stroke="#666" stroke-width="0.9"/>
<rect x="145.80" y="331.30" width="25.20" height="5.6" fill="#fff" stroke="#6a6a6a" stroke-width="0.6"/>
<text x="146.70" y="335.70" font-family="Liberation Sans, sans-serif" font-size="4.6" fill="#111" textLength="23.40" lengthAdjust="spacingAndGlyphs">BH : 0.22%</text>
<line x1="145" y1="337.50" x2="185.70" y2="337.50" stroke="#8a8a8a" stroke-width="0.9"/>
<line x1="185.70" y1="335.70" x2="185.70" y2="339.30" stroke="#666" stroke-width="0.9"/>
<rect x="145.80" y="338.10" width="25.20" height="5.6" fill="#fff" stroke="#6a6a6a" stroke-width="0.6"/>
<text x="146.70" y="342.50" font-family="Liberation Sans, sans-serif" font-size="4.6" fill="#111" textLength="23.40" lengthAdjust="spacingAndGlyphs">BI : 0.00%</text>
<line x1="145" y1="344.50" x2="179.70" y2="344.50" stroke="#8a8a8a" stroke-width="0.9"/>
<line x1="179.70" y1="342.70" x2="179.70" y2="346.30" stroke="#666" stroke-width="0.9"/>
<rect x="145.80" y="345.10" width="25.20" height="5.6" fill="#fff" stroke="#6a6a6a" stroke-width="0.6"/>
<text x="146.70" y="349.50" font-family="Liberation Sans, sans-serif" font-size="4.6" fill="#111" textLength="23.40" lengthAdjust="spacingAndGlyphs">BJ : 0.00%</text>
<line x1="145" y1="351.50" x2="174.20" y2="351.50" stroke="#8a8a8a" stroke-width="0.9"/>
<line x1="174.20" y1="349.70" x2="174.20" y2="353.30" stroke="#666" stroke-width="0.9"/>
<rect x="145.80" y="352.40" width="25.20" height="5.6" fill="#fff" stroke="#6a6a6a" stroke-width="0.6"/>
<text x="146.70" y="356.80" font-family="Liberation Sans, sans-serif" font-size="4.6" fill="#111" textLength="23.40" lengthAdjust="spacingAndGlyphs">BK : 0.00%</text>
<line x1="145" y1="359.50" x2="169.20" y2="359.50" stroke="#8a8a8a" stroke-width="0.9"/>
<line x1="169.20" y1="357.70" x2="169.20" y2="361.30" stroke="#666" stroke-width="0.9"/>
<rect x="145.80" y="359.80" width="25.20" height="5.6" fill="#fff" stroke="#6a6a6a" stroke-width="0.6"/>
<text x="146.70" y="364.20" font-family="Liberation Sans, sans-serif" font-size="4.6" fill="#111" textLength="23.40" lengthAdjust="spacingAndGlyphs">BL : 0.00%</text>
<path d="M191.00,383.50L191.00,383.50L191.45,383.10L191.90,382.69L192.35,382.30L192.80,382.16L193.25,382.11L193.70,382.00L194.15,381.89L194.60,381.72L195.05,381.69L195.50,381.50L195.95,381.40L196.40,381.37L196.85,381.21L197.30,381.36L197.75,381.54L198.20,381.64L198.65,381.91L199.10,381.97L199.55,381.50L200.00,381.21L200.45,380.89L200.90,380.51L201.35,380.15L201.80,379.75L202.25,379.72L202.70,379.50L203.15,379.19L203.60,378.98L204.05,377.37L204.50,374.92L204.95,372.78L205.40,370.48L205.85,366.08L206.30,361.64L206.75,358.31L207.20,355.38L207.65,352.90L208.10,355.43L208.55,360.50L209.00,364.76L209.45,367.68L209.90,370.97L210.35,368.50L210.80,362.75L211.25,356.81L211.70,350.48L212.15,342.41L212.60,333.72L213.05,324.88L213.50,318.01L213.95,313.60L214.40,309.28L214.85,314.06L215.30,321.61L215.75,329.39L216.20,337.26L216.65,344.85L217.10,352.86L217.55,360.31L218.00,367.53L218.45,374.15L218.90,378.06L219.35,379.33L219.80,380.47L220.25,381.71L220.70,382.55L221.15,383.07L221.50,383.50Z" fill="#858585" stroke="#1a1a1a" stroke-width="0.7"/>
<rect x="145" y="304.4" width="79.19999999999999" height="79.10000000000002" fill="none" stroke="#9a9a9a" stroke-width="1"/>
<line x1="143" y1="383.50" x2="145" y2="383.50" stroke="#666" stroke-width="0.8"/>
<text x="142.00" y="385.40" font-family="Liberation Sans, sans-serif" font-size="5.5" font-weight="normal" text-anchor="end" fill="#2a2a2a" >0</text>
<line x1="143" y1="359.00" x2="145" y2="359.00" stroke="#666" stroke-width="0.8"/>
<text x="142.00" y="360.90" font-family="Liberation Sans, sans-serif" font-size="5.5" font-weight="normal" text-anchor="end" fill="#2a2a2a" >20</text>
<line x1="143" y1="334.50" x2="145" y2="334.50" stroke="#666" stroke-width="0.8"/>
<text x="142.00" y="336.40" font-family="Liberation Sans, sans-serif" font-size="5.5" font-weight="normal" text-anchor="end" fill="#2a2a2a" >40</text>
<line x1="143" y1="310.00" x2="145" y2="310.00" stroke="#666" stroke-width="0.8"/>
<text x="142.00" y="311.90" font-family="Liberation Sans, sans-serif" font-size="5.5" font-weight="normal" text-anchor="end" fill="#2a2a2a" >60</text>
<line x1="164.80" y1="383.5" x2="164.80" y2="385.5" stroke="#777" stroke-width="0.7"/>
<text x="163.80" y="394.20" font-family="Liberation Sans, sans-serif" font-size="5.5" fill="#2a2a2a" text-anchor="middle">10<tspan dy="-2.2" font-size="3.8">0</tspan></text>
<line x1="184.60" y1="383.5" x2="184.60" y2="385.5" stroke="#777" stroke-width="0.7"/>
<text x="183.60" y="394.20" font-family="Liberation Sans, sans-serif" font-size="5.5" fill="#2a2a2a" text-anchor="middle">10<tspan dy="-2.2" font-size="3.8">1</tspan></text>
<line x1="204.40" y1="383.5" x2="204.40" y2="385.5" stroke="#777" stroke-width="0.7"/>
<text x="203.40" y="394.20" font-family="Liberation Sans, sans-serif" font-size="5.5" fill="#2a2a2a" text-anchor="middle">10<tspan dy="-2.2" font-size="3.8">2</tspan></text>
<line x1="224.20" y1="383.5" x2="224.20" y2="385.5" stroke="#777" stroke-width="0.7"/>
<text x="223.20" y="394.20" font-family="Liberation Sans, sans-serif" font-size="5.5" fill="#2a2a2a" text-anchor="middle">10<tspan dy="-2.2" font-size="3.8">3</tspan></text>
<line x1="145" y1="383.5" x2="224.2" y2="383.5" stroke="#555" stroke-width="1"/>
<line x1="46" y1="406.50" x2="109.50" y2="406.50" stroke="#8a8a8a" stroke-width="0.9"/>
<line x1="109.50" y1="404.70" x2="109.50" y2="408.30" stroke="#666" stroke-width="0.9"/>
<rect x="46.80" y="407.40" width="25.20" height="5.6" fill="#fff" stroke="#6a6a6a" stroke-width="0.6"/>
<text x="47.70" y="411.80" font-family="Liberation Sans, sans-serif" font-size="4.6" fill="#111" textLength="23.40" lengthAdjust="spacingAndGlyphs">AW : 4.29%</text>
<line x1="46" y1="413.50" x2="104.50" y2="413.50" stroke="#8a8a8a" stroke-width="0.9"/>
<line x1="104.50" y1="411.70" x2="104.50" y2="415.30" stroke="#666" stroke-width="0.9"/>
<rect x="46.80" y="413.80" width="25.20" height="5.6" fill="#fff" stroke="#6a6a6a" stroke-width="0.6"/>
<text x="47.70" y="418.20" font-family="Liberation Sans, sans-serif" font-size="4.6" fill="#111" textLength="23.40" lengthAdjust="spacingAndGlyphs">AX : 0.58%</text>
<line x1="46" y1="419.50" x2="99.00" y2="419.50" stroke="#8a8a8a" stroke-width="0.9"/>
<line x1="99.00" y1="417.70" x2="99.00" y2="421.30" stroke="#666" stroke-width="0.9"/>
<rect x="46.80" y="420.50" width="25.20" height="5.6" fill="#fff" stroke="#6a6a6a" stroke-width="0.6"/>
<text x="47.70" y="424.90" font-family="Liberation Sans, sans-serif" font-size="4.6" fill="#111" textLength="23.40" lengthAdjust="spacingAndGlyphs">AY : 0.30%</text>
<line x1="46" y1="426.50" x2="93.30" y2="426.50" stroke="#8a8a8a" stroke-width="0.9"/>
<line x1="93.30" y1="424.70" x2="93.30" y2="428.30" stroke="#666" stroke-width="0.9"/>
<rect x="46.80" y="426.90" width="25.20" height="5.6" fill="#fff" stroke="#6a6a6a" stroke-width="0.6"/>
<text x="47.70" y="431.30" font-family="Liberation Sans, sans-serif" font-size="4.6" fill="#111" textLength="23.40" lengthAdjust="spacingAndGlyphs">AZ : 0.04%</text>
<line x1="46" y1="433.50" x2="86.70" y2="433.50" stroke="#8a8a8a" stroke-width="0.9"/>
<line x1="86.70" y1="431.70" x2="86.70" y2="435.30" stroke="#666" stroke-width="0.9"/>
<rect x="46.80" y="433.70" width="25.20" height="5.6" fill="#fff" stroke="#6a6a6a" stroke-width="0.6"/>
<text x="47.70" y="438.10" font-family="Liberation Sans, sans-serif" font-size="4.6" fill="#111" textLength="23.40" lengthAdjust="spacingAndGlyphs">BA : 0.00%</text>
<line x1="46" y1="440.50" x2="80.70" y2="440.50" stroke="#8a8a8a" stroke-width="0.9"/>
<line x1="80.70" y1="438.70" x2="80.70" y2="442.30" stroke="#666" stroke-width="0.9"/>
<rect x="46.80" y="440.70" width="25.20" height="5.6" fill="#fff" stroke="#6a6a6a" stroke-width="0.6"/>
<text x="47.70" y="445.10" font-family="Liberation Sans, sans-serif" font-size="4.6" fill="#111" textLength="23.40" lengthAdjust="spacingAndGlyphs">BB : 0.00%</text>
<line x1="46" y1="447.50" x2="75.20" y2="447.50" stroke="#8a8a8a" stroke-width="0.9"/>
<line x1="75.20" y1="445.70" x2="75.20" y2="449.30" stroke="#666" stroke-width="0.9"/>
<rect x="46.80" y="448.00" width="25.20" height="5.6" fill="#fff" stroke="#6a6a6a" stroke-width="0.6"/>
<text x="47.70" y="452.40" font-family="Liberation Sans, sans-serif" font-size="4.6" fill="#111" textLength="23.40" lengthAdjust="spacingAndGlyphs">BC : 0.00%</text>
<line x1="46" y1="454.50" x2="70.20" y2="454.50" stroke="#8a8a8a" stroke-width="0.9"/>
<line x1="70.20" y1="452.70" x2="70.20" y2="456.30" stroke="#666" stroke-width="0.9"/>
<rect x="46.80" y="455.40" width="25.20" height="5.6" fill="#fff" stroke="#6a6a6a" stroke-width="0.6"/>
<text x="47.70" y="459.80" font-family="Liberation Sans, sans-serif" font-size="4.6" fill="#111" textLength="23.40" lengthAdjust="spacingAndGlyphs">BD : 0.00%</text>
<path d="M98.00,478.30L98.00,477.50L98.45,477.36L98.90,477.30L99.35,477.16L99.80,476.99L100.25,476.90L100.70,476.83L101.15,476.69L101.60,476.52L102.05,476.45L102.50,476.39L102.95,476.08L103.40,475.98L103.85,475.68L104.30,475.46L104.75,475.28L105.20,474.80L105.65,474.53L106.10,473.97L106.55,473.67L107.00,472.94L107.45,473.25L107.90,473.54L108.35,473.86L108.80,472.62L109.25,471.56L109.70,468.63L110.15,464.69L110.60,461.21L111.05,454.52L111.50,447.91L111.95,439.68L112.40,428.87L112.85,417.95L113.30,411.13L113.75,407.21L114.20,404.85L114.65,410.96L115.10,417.55L115.55,423.96L116.00,431.29L116.45,437.81L116.90,443.83L117.35,449.90L117.80,456.35L118.25,461.61L118.70,464.74L119.15,466.90L119.60,469.90L120.05,472.27L120.50,473.16L120.95,474.43L121.40,475.79L121.85,476.68L122.30,478.30Z" fill="#242424" stroke="#000" stroke-width="0.6"/>
<rect x="46" y="400" width="78.4" height="78.30000000000001" fill="none" stroke="#9a9a9a" stroke-width="1"/>
<line x1="44" y1="478.30" x2="46" y2="478.30" stroke="#666" stroke-width="0.8"/>
<text x="43.00" y="480.20" font-family="Liberation Sans, sans-serif" font-size="5.5" font-weight="normal" text-anchor="end" fill="#2a2a2a" >0</text>
<line x1="44" y1="454.80" x2="46" y2="454.80" stroke="#666" stroke-width="0.8"/>
<text x="43.00" y="456.70" font-family="Liberation Sans, sans-serif" font-size="5.5" font-weight="normal" text-anchor="end" fill="#2a2a2a" >20</text>
<line x1="44" y1="431.30" x2="46" y2="431.30" stroke="#666" stroke-width="0.8"/>
<text x="43.00" y="433.20" font-family="Liberation Sans, sans-serif" font-size="5.5" font-weight="normal" text-anchor="end" fill="#2a2a2a" >40</text>
<line x1="44" y1="407.80" x2="46" y2="407.80" stroke="#666" stroke-width="0.8"/>
<text x="43.00" y="409.70" font-family="Liberation Sans, sans-serif" font-size="5.5" font-weight="normal" text-anchor="end" fill="#2a2a2a" >60</text>
<line x1="65.60" y1="478.3" x2="65.60" y2="480.3" stroke="#777" stroke-width="0.7"/>
<text x="64.60" y="489.00" font-family="Liberation Sans, sans-serif" font-size="5.5" fill="#2a2a2a" text-anchor="middle">10<tspan dy="-2.2" font-size="3.8">0</tspan></text>
<line x1="85.20" y1="478.3" x2="85.20" y2="480.3" stroke="#777" stroke-width="0.7"/>
<text x="84.20" y="489.00" font-family="Liberation Sans, sans-serif" font-size="5.5" fill="#2a2a2a" text-anchor="middle">10<tspan dy="-2.2" font-size="3.8">1</tspan></text>
<line x1="104.80" y1="478.3" x2="104.80" y2="480.3" stroke="#777" stroke-width="0.7"/>
<text x="103.80" y="489.00" font-family="Liberation Sans, sans-serif" font-size="5.5" fill="#2a2a2a" text-anchor="middle">10<tspan dy="-2.2" font-size="3.8">2</tspan></text>
<line x1="124.40" y1="478.3" x2="124.40" y2="480.3" stroke="#777" stroke-width="0.7"/>
<text x="123.40" y="489.00" font-family="Liberation Sans, sans-serif" font-size="5.5" fill="#2a2a2a" text-anchor="middle">10<tspan dy="-2.2" font-size="3.8">3</tspan></text>
<line x1="46" y1="478.3" x2="124.4" y2="478.3" stroke="#555" stroke-width="1"/>
<line x1="145" y1="407.50" x2="208.50" y2="407.50" stroke="#8a8a8a" stroke-width="0.9"/>
<line x1="208.50" y1="405.70" x2="208.50" y2="409.30" stroke="#666" stroke-width="0.9"/>
<rect x="145.80" y="407.60" width="25.20" height="5.6" fill="#fff" stroke="#6a6a6a" stroke-width="0.6"/>
<text x="146.70" y="412.00" font-family="Liberation Sans, sans-serif" font-size="4.6" fill="#111" textLength="23.40" lengthAdjust="spacingAndGlyphs">BE : 8.40%</text>
<line x1="145" y1="413.50" x2="203.50" y2="413.50" stroke="#8a8a8a" stroke-width="0.9"/>
<line x1="203.50" y1="411.70" x2="203.50" y2="415.30" stroke="#666" stroke-width="0.9"/>
<rect x="145.80" y="414.00" width="25.20" height="5.6" fill="#fff" stroke="#6a6a6a" stroke-width="0.6"/>
<text x="146.70" y="418.40" font-family="Liberation Sans, sans-serif" font-size="4.6" fill="#111" textLength="23.40" lengthAdjust="spacingAndGlyphs">BF : 1.57%</text>
<line x1="145" y1="420.50" x2="198.00" y2="420.50" stroke="#8a8a8a" stroke-width="0.9"/>
<line x1="198.00" y1="418.70" x2="198.00" y2="422.30" stroke="#666" stroke-width="0.9"/>
<rect x="145.80" y="420.70" width="25.20" height="5.6" fill="#fff" stroke="#6a6a6a" stroke-width="0.6"/>
<text x="146.70" y="425.10" font-family="Liberation Sans, sans-serif" font-size="4.6" fill="#111" textLength="23.40" lengthAdjust="spacingAndGlyphs">BG : 1.14%</text>
<line x1="145" y1="426.50" x2="192.30" y2="426.50" stroke="#8a8a8a" stroke-width="0.9"/>
<line x1="192.30" y1="424.70" x2="192.30" y2="428.30" stroke="#666" stroke-width="0.9"/>
<rect x="145.80" y="427.10" width="25.20" height="5.6" fill="#fff" stroke="#6a6a6a" stroke-width="0.6"/>
<text x="146.70" y="431.50" font-family="Liberation Sans, sans-serif" font-size="4.6" fill="#111" textLength="23.40" lengthAdjust="spacingAndGlyphs">BH : 0.35%</text>
<line x1="145" y1="433.50" x2="185.70" y2="433.50" stroke="#8a8a8a" stroke-width="0.9"/>
<line x1="185.70" y1="431.70" x2="185.70" y2="435.30" stroke="#666" stroke-width="0.9"/>
<rect x="145.80" y="433.90" width="25.20" height="5.6" fill="#fff" stroke="#6a6a6a" stroke-width="0.6"/>
<text x="146.70" y="438.30" font-family="Liberation Sans, sans-serif" font-size="4.6" fill="#111" textLength="23.40" lengthAdjust="spacingAndGlyphs">BI : 0.00%</text>
<line x1="145" y1="440.50" x2="179.70" y2="440.50" stroke="#8a8a8a" stroke-width="0.9"/>
<line x1="179.70" y1="438.70" x2="179.70" y2="442.30" stroke="#666" stroke-width="0.9"/>
<rect x="145.80" y="440.90" width="25.20" height="5.6" fill="#fff" stroke="#6a6a6a" stroke-width="0.6"/>
<text x="146.70" y="445.30" font-family="Liberation Sans, sans-serif" font-size="4.6" fill="#111" textLength="23.40" lengthAdjust="spacingAndGlyphs">BJ : 0.00%</text>
<line x1="145" y1="447.50" x2="174.20" y2="447.50" stroke="#8a8a8a" stroke-width="0.9"/>
<line x1="174.20" y1="445.70" x2="174.20" y2="449.30" stroke="#666" stroke-width="0.9"/>
<rect x="145.80" y="448.20" width="25.20" height="5.6" fill="#fff" stroke="#6a6a6a" stroke-width="0.6"/>
<text x="146.70" y="452.60" font-family="Liberation Sans, sans-serif" font-size="4.6" fill="#111" textLength="23.40" lengthAdjust="spacingAndGlyphs">BK : 0.00%</text>
<line x1="145" y1="455.50" x2="169.20" y2="455.50" stroke="#8a8a8a" stroke-width="0.9"/>
<line x1="169.20" y1="453.70" x2="169.20" y2="457.30" stroke="#666" stroke-width="0.9"/>
<rect x="145.80" y="455.60" width="25.20" height="5.6" fill="#fff" stroke="#6a6a6a" stroke-width="0.6"/>
<text x="146.70" y="460.00" font-family="Liberation Sans, sans-serif" font-size="4.6" fill="#111" textLength="23.40" lengthAdjust="spacingAndGlyphs">BL : 0.00%</text>
<path d="M192.00,478.00L192.00,477.50L192.45,477.38L192.90,477.25L193.35,477.07L193.80,476.95L194.25,476.81L194.70,476.69L195.15,476.63L195.60,476.64L196.05,476.70L196.50,476.73L196.95,476.78L197.40,476.81L197.85,476.89L198.30,476.95L198.75,477.00L199.20,476.96L199.65,476.93L200.10,476.83L200.55,476.76L201.00,476.75L201.45,476.62L201.90,476.62L202.35,476.48L202.80,476.41L203.25,476.41L203.70,476.29L204.15,475.79L204.60,475.29L205.05,474.57L205.50,474.10L205.95,473.23L206.40,472.66L206.85,472.36L207.30,473.37L207.75,473.97L208.20,471.28L208.65,468.26L209.10,464.68L209.55,457.04L210.00,450.00L210.45,442.15L210.90,433.65L211.35,424.78L211.80,417.96L212.25,410.71L212.70,406.51L213.15,405.91L213.60,410.17L214.05,414.05L214.50,421.90L214.95,430.31L215.40,438.90L215.85,446.04L216.30,453.60L216.75,460.28L217.20,463.91L217.65,467.61L218.10,471.10L218.55,472.80L219.00,473.99L219.45,475.01L219.90,476.26L220.35,476.77L220.80,477.30L221.00,478.00Z" fill="#858585" stroke="#1a1a1a" stroke-width="0.7"/>
<rect x="145" y="400.2" width="77.9" height="77.80000000000001" fill="none" stroke="#9a9a9a" stroke-width="1"/>
<line x1="143" y1="478.00" x2="145" y2="478.00" stroke="#666" stroke-width="0.8"/>
<text x="142.00" y="479.90" font-family="Liberation Sans, sans-serif" font-size="5.5" font-weight="normal" text-anchor="end" fill="#2a2a2a" >0</text>
<line x1="143" y1="455.90" x2="145" y2="455.90" stroke="#666" stroke-width="0.8"/>
<text x="142.00" y="457.80" font-family="Liberation Sans, sans-serif" font-size="5.5" font-weight="normal" text-anchor="end" fill="#2a2a2a" >20</text>
<line x1="143" y1="433.80" x2="145" y2="433.80" stroke="#666" stroke-width="0.8"/>
<text x="142.00" y="435.70" font-family="Liberation Sans, sans-serif" font-size="5.5" font-weight="normal" text-anchor="end" fill="#2a2a2a" >40</text>
<line x1="143" y1="411.70" x2="145" y2="411.70" stroke="#666" stroke-width="0.8"/>
<text x="142.00" y="413.60" font-family="Liberation Sans, sans-serif" font-size="5.5" font-weight="normal" text-anchor="end" fill="#2a2a2a" >60</text>
<line x1="164.47" y1="478" x2="164.47" y2="480" stroke="#777" stroke-width="0.7"/>
<text x="163.47" y="488.70" font-family="Liberation Sans, sans-serif" font-size="5.5" fill="#2a2a2a" text-anchor="middle">10<tspan dy="-2.2" font-size="3.8">0</tspan></text>
<line x1="183.95" y1="478" x2="183.95" y2="480" stroke="#777" stroke-width="0.7"/>
<text x="182.95" y="488.70" font-family="Liberation Sans, sans-serif" font-size="5.5" fill="#2a2a2a" text-anchor="middle">10<tspan dy="-2.2" font-size="3.8">1</tspan></text>
<line x1="203.43" y1="478" x2="203.43" y2="480" stroke="#777" stroke-width="0.7"/>
<text x="202.43" y="488.70" font-family="Liberation Sans, sans-serif" font-size="5.5" fill="#2a2a2a" text-anchor="middle">10<tspan dy="-2.2" font-size="3.8">2</tspan></text>
<line x1="222.90" y1="478" x2="222.90" y2="480" stroke="#777" stroke-width="0.7"/>
<text x="221.90" y="488.70" font-family="Liberation Sans, sans-serif" font-size="5.5" fill="#2a2a2a" text-anchor="middle">10<tspan dy="-2.2" font-size="3.8">3</tspan></text>
<line x1="145" y1="478" x2="222.9" y2="478" stroke="#555" stroke-width="1"/>
<line x1="311" y1="29.50" x2="371.50" y2="29.50" stroke="#8a8a8a" stroke-width="0.9"/>
<line x1="371.50" y1="27.70" x2="371.50" y2="31.30" stroke="#666" stroke-width="0.9"/>
<rect x="311.80" y="23.90" width="29.80" height="5.6" fill="#fff" stroke="#6a6a6a" stroke-width="0.6"/>
<text x="312.70" y="28.30" font-family="Liberation Sans, sans-serif" font-size="4.6" fill="#111" textLength="28.00" lengthAdjust="spacingAndGlyphs">CB : 100.00%</text>
<line x1="311" y1="36.50" x2="366.20" y2="36.50" stroke="#8a8a8a" stroke-width="0.9"/>
<line x1="366.20" y1="34.70" x2="366.20" y2="38.30" stroke="#666" stroke-width="0.9"/>
<rect x="311.80" y="30.50" width="25.20" height="5.6" fill="#fff" stroke="#6a6a6a" stroke-width="0.6"/>
<text x="312.70" y="34.90" font-family="Liberation Sans, sans-serif" font-size="4.6" fill="#111" textLength="23.40" lengthAdjust="spacingAndGlyphs">BX : 1.34%</text>
<line x1="311" y1="42.50" x2="360.50" y2="42.50" stroke="#8a8a8a" stroke-width="0.9"/>
<line x1="360.50" y1="40.70" x2="360.50" y2="44.30" stroke="#666" stroke-width="0.9"/>
<rect x="311.80" y="36.90" width="25.20" height="5.6" fill="#fff" stroke="#6a6a6a" stroke-width="0.6"/>
<text x="312.70" y="41.30" font-family="Liberation Sans, sans-serif" font-size="4.6" fill="#111" textLength="23.40" lengthAdjust="spacingAndGlyphs">BY : 0.42%</text>
<line x1="311" y1="48.50" x2="354.60" y2="48.50" stroke="#8a8a8a" stroke-width="0.9"/>
<line x1="354.60" y1="46.70" x2="354.60" y2="50.30" stroke="#666" stroke-width="0.9"/>
<rect x="311.80" y="42.90" width="25.20" height="5.6" fill="#fff" stroke="#6a6a6a" stroke-width="0.6"/>
<text x="312.70" y="47.30" font-family="Liberation Sans, sans-serif" font-size="4.6" fill="#111" textLength="23.40" lengthAdjust="spacingAndGlyphs">CA : 0.10%</text>
<line x1="311" y1="54.50" x2="349.70" y2="54.50" stroke="#8a8a8a" stroke-width="0.9"/>
<line x1="349.70" y1="52.70" x2="349.70" y2="56.30" stroke="#666" stroke-width="0.9"/>
<rect x="311.80" y="48.90" width="25.20" height="5.6" fill="#fff" stroke="#6a6a6a" stroke-width="0.6"/>
<text x="312.70" y="53.30" font-family="Liberation Sans, sans-serif" font-size="4.6" fill="#111" textLength="23.40" lengthAdjust="spacingAndGlyphs">BZ : 0.04%</text>
<line x1="311" y1="59.50" x2="344.00" y2="59.50" stroke="#8a8a8a" stroke-width="0.9"/>
<line x1="344.00" y1="57.70" x2="344.00" y2="61.30" stroke="#666" stroke-width="0.9"/>
<rect x="311.80" y="54.90" width="25.20" height="5.6" fill="#fff" stroke="#6a6a6a" stroke-width="0.6"/>
<text x="312.70" y="59.30" font-family="Liberation Sans, sans-serif" font-size="4.6" fill="#111" textLength="23.40" lengthAdjust="spacingAndGlyphs">CC : 0.00%</text>
<path d="M369.00,99.30L369.00,99.30L369.45,99.20L369.90,99.09L370.35,98.91L370.80,98.07L371.25,97.20L371.70,96.35L372.15,95.50L372.60,94.72L373.05,91.71L373.50,88.93L373.95,86.33L374.40,83.23L374.85,71.73L375.30,59.46L375.75,46.40L376.20,32.67L376.65,32.82L377.10,44.08L377.55,56.27L378.00,70.64L378.45,83.76L378.90,87.03L379.35,90.24L379.80,93.53L380.25,96.15L380.70,96.65L381.15,97.31L381.60,97.89L382.05,98.52L382.50,99.03L382.95,99.15L383.40,99.27L383.50,99.30Z" fill="#686868" stroke="#4a4a4a" stroke-width="0.6"/>
<rect x="311" y="22.5" width="77.5" height="76.8" fill="none" stroke="#9a9a9a" stroke-width="1"/>
<line x1="309" y1="99.30" x2="311" y2="99.30" stroke="#666" stroke-width="0.8"/>
<text x="308.00" y="101.20" font-family="Liberation Sans, sans-serif" font-size="5.5" font-weight="normal" text-anchor="end" fill="#2a2a2a" >0</text>
<line x1="309" y1="79.20" x2="311" y2="79.20" stroke="#666" stroke-width="0.8"/>
<text x="308.00" y="81.10" font-family="Liberation Sans, sans-serif" font-size="5.5" font-weight="normal" text-anchor="end" fill="#2a2a2a" >100</text>
<line x1="309" y1="59.10" x2="311" y2="59.10" stroke="#666" stroke-width="0.8"/>
<text x="308.00" y="61.00" font-family="Liberation Sans, sans-serif" font-size="5.5" font-weight="normal" text-anchor="end" fill="#2a2a2a" >200</text>
<line x1="309" y1="39.00" x2="311" y2="39.00" stroke="#666" stroke-width="0.8"/>
<text x="308.00" y="40.90" font-family="Liberation Sans, sans-serif" font-size="5.5" font-weight="normal" text-anchor="end" fill="#2a2a2a" >300</text>
<line x1="330.38" y1="99.3" x2="330.38" y2="101.3" stroke="#777" stroke-width="0.7"/>
<text x="329.38" y="110.00" font-family="Liberation Sans, sans-serif" font-size="5.5" fill="#2a2a2a" text-anchor="middle">10<tspan dy="-2.2" font-size="3.8">0</tspan></text>
<line x1="349.75" y1="99.3" x2="349.75" y2="101.3" stroke="#777" stroke-width="0.7"/>
<text x="348.75" y="110.00" font-family="Liberation Sans, sans-serif" font-size="5.5" fill="#2a2a2a" text-anchor="middle">10<tspan dy="-2.2" font-size="3.8">1</tspan></text>
<line x1="369.12" y1="99.3" x2="369.12" y2="101.3" stroke="#777" stroke-width="0.7"/>
<text x="368.12" y="110.00" font-family="Liberation Sans, sans-serif" font-size="5.5" fill="#2a2a2a" text-anchor="middle">10<tspan dy="-2.2" font-size="3.8">2</tspan></text>
<line x1="388.50" y1="99.3" x2="388.50" y2="101.3" stroke="#777" stroke-width="0.7"/>
<text x="387.50" y="110.00" font-family="Liberation Sans, sans-serif" font-size="5.5" fill="#2a2a2a" text-anchor="middle">10<tspan dy="-2.2" font-size="3.8">3</tspan></text>
<line x1="311" y1="99.3" x2="388.5" y2="99.3" stroke="#555" stroke-width="1"/>
<line x1="416.5" y1="29.50" x2="477.00" y2="29.50" stroke="#8a8a8a" stroke-width="0.9"/>
<line x1="477.00" y1="27.70" x2="477.00" y2="31.30" stroke="#666" stroke-width="0.9"/>
<rect x="417.30" y="23.90" width="29.80" height="5.6" fill="#fff" stroke="#6a6a6a" stroke-width="0.6"/>
<text x="418.20" y="28.30" font-family="Liberation Sans, sans-serif" font-size="4.6" fill="#111" textLength="28.00" lengthAdjust="spacingAndGlyphs">CI : 100.00%</text>
<line x1="416.5" y1="36.50" x2="471.70" y2="36.50" stroke="#8a8a8a" stroke-width="0.9"/>
<line x1="471.70" y1="34.70" x2="471.70" y2="38.30" stroke="#666" stroke-width="0.9"/>
<rect x="417.30" y="30.50" width="25.20" height="5.6" fill="#fff" stroke="#6a6a6a" stroke-width="0.6"/>
<text x="418.20" y="34.90" font-family="Liberation Sans, sans-serif" font-size="4.6" fill="#111" textLength="23.40" lengthAdjust="spacingAndGlyphs">CE : 1.34%</text>
<line x1="416.5" y1="42.50" x2="466.00" y2="42.50" stroke="#8a8a8a" stroke-width="0.9"/>
<line x1="466.00" y1="40.70" x2="466.00" y2="44.30" stroke="#666" stroke-width="0.9"/>
<rect x="417.30" y="36.90" width="25.20" height="5.6" fill="#fff" stroke="#6a6a6a" stroke-width="0.6"/>
<text x="418.20" y="41.30" font-family="Liberation Sans, sans-serif" font-size="4.6" fill="#111" textLength="23.40" lengthAdjust="spacingAndGlyphs">CF : 0.37%</text>
<line x1="416.5" y1="48.50" x2="460.10" y2="48.50" stroke="#8a8a8a" stroke-width="0.9"/>
<line x1="460.10" y1="46.70" x2="460.10" y2="50.30" stroke="#666" stroke-width="0.9"/>
<rect x="417.30" y="42.90" width="25.20" height="5.6" fill="#fff" stroke="#6a6a6a" stroke-width="0.6"/>
<text x="418.20" y="47.30" font-family="Liberation Sans, sans-serif" font-size="4.6" fill="#111" textLength="23.40" lengthAdjust="spacingAndGlyphs">CH : 0.09%</text>
<line x1="416.5" y1="54.50" x2="455.20" y2="54.50" stroke="#8a8a8a" stroke-width="0.9"/>
<line x1="455.20" y1="52.70" x2="455.20" y2="56.30" stroke="#666" stroke-width="0.9"/>
<rect x="417.30" y="48.90" width="25.20" height="5.6" fill="#fff" stroke="#6a6a6a" stroke-width="0.6"/>
<text x="418.20" y="53.30" font-family="Liberation Sans, sans-serif" font-size="4.6" fill="#111" textLength="23.40" lengthAdjust="spacingAndGlyphs">CG : 0.00%</text>
<line x1="416.5" y1="59.50" x2="449.50" y2="59.50" stroke="#8a8a8a" stroke-width="0.9"/>
<line x1="449.50" y1="57.70" x2="449.50" y2="61.30" stroke="#666" stroke-width="0.9"/>
<rect x="417.30" y="54.90" width="25.20" height="5.6" fill="#fff" stroke="#6a6a6a" stroke-width="0.6"/>
<text x="418.20" y="59.30" font-family="Liberation Sans, sans-serif" font-size="4.6" fill="#111" textLength="23.40" lengthAdjust="spacingAndGlyphs">CJ : 0.00%</text>
<path d="M474.50,99.30L474.50,99.30L474.95,99.20L475.40,99.09L475.85,98.90L476.30,98.08L476.75,97.18L477.20,96.32L477.65,95.55L478.10,94.66L478.55,91.76L479.00,88.76L479.45,85.69L479.90,80.48L480.35,69.02L480.80,56.83L481.25,46.53L481.70,35.88L482.15,28.11L482.60,41.80L483.05,56.02L483.50,68.89L483.95,78.89L484.40,82.57L484.85,86.57L485.30,87.48L485.75,86.61L486.20,85.94L486.65,85.32L487.10,86.26L487.55,87.99L488.00,89.87L488.45,91.95L488.90,94.25L489.35,95.55L489.80,96.59L490.25,97.65L490.70,98.69L491.15,99.04L491.50,99.30Z" fill="#686868" stroke="#4a4a4a" stroke-width="0.6"/>
<rect x="416.5" y="22.5" width="77.5" height="76.8" fill="none" stroke="#9a9a9a" stroke-width="1"/>
<line x1="414.5" y1="99.30" x2="416.5" y2="99.30" stroke="#666" stroke-width="0.8"/>
<text x="413.50" y="101.20" font-family="Liberation Sans, sans-serif" font-size="5.5" font-weight="normal" text-anchor="end" fill="#2a2a2a" >0</text>
<line x1="414.5" y1="79.80" x2="416.5" y2="79.80" stroke="#666" stroke-width="0.8"/>
<text x="413.50" y="81.70" font-family="Liberation Sans, sans-serif" font-size="5.5" font-weight="normal" text-anchor="end" fill="#2a2a2a" >50</text>
<line x1="414.5" y1="60.30" x2="416.5" y2="60.30" stroke="#666" stroke-width="0.8"/>
<text x="413.50" y="62.20" font-family="Liberation Sans, sans-serif" font-size="5.5" font-weight="normal" text-anchor="end" fill="#2a2a2a" >100</text>
<line x1="414.5" y1="40.80" x2="416.5" y2="40.80" stroke="#666" stroke-width="0.8"/>
<text x="413.50" y="42.70" font-family="Liberation Sans, sans-serif" font-size="5.5" font-weight="normal" text-anchor="end" fill="#2a2a2a" >150</text>
<line x1="435.88" y1="99.3" x2="435.88" y2="101.3" stroke="#777" stroke-width="0.7"/>
<text x="434.88" y="110.00" font-family="Liberation Sans, sans-serif" font-size="5.5" fill="#2a2a2a" text-anchor="middle">10<tspan dy="-2.2" font-size="3.8">0</tspan></text>
<line x1="455.25" y1="99.3" x2="455.25" y2="101.3" stroke="#777" stroke-width="0.7"/>
<text x="454.25" y="110.00" font-family="Liberation Sans, sans-serif" font-size="5.5" fill="#2a2a2a" text-anchor="middle">10<tspan dy="-2.2" font-size="3.8">1</tspan></text>
<line x1="474.62" y1="99.3" x2="474.62" y2="101.3" stroke="#777" stroke-width="0.7"/>
<text x="473.62" y="110.00" font-family="Liberation Sans, sans-serif" font-size="5.5" fill="#2a2a2a" text-anchor="middle">10<tspan dy="-2.2" font-size="3.8">2</tspan></text>
<line x1="494.00" y1="99.3" x2="494.00" y2="101.3" stroke="#777" stroke-width="0.7"/>
<text x="493.00" y="110.00" font-family="Liberation Sans, sans-serif" font-size="5.5" fill="#2a2a2a" text-anchor="middle">10<tspan dy="-2.2" font-size="3.8">3</tspan></text>
<line x1="416.5" y1="99.3" x2="494" y2="99.3" stroke="#555" stroke-width="1"/>
<line x1="311" y1="125.50" x2="371.50" y2="125.50" stroke="#8a8a8a" stroke-width="0.9"/>
<line x1="371.50" y1="123.70" x2="371.50" y2="127.30" stroke="#666" stroke-width="0.9"/>
<rect x="311.80" y="120.10" width="29.80" height="5.6" fill="#fff" stroke="#6a6a6a" stroke-width="0.6"/>
<text x="312.70" y="124.50" font-family="Liberation Sans, sans-serif" font-size="4.6" fill="#111" textLength="28.00" lengthAdjust="spacingAndGlyphs">CB : 100.00%</text>
<line x1="311" y1="132.50" x2="366.20" y2="132.50" stroke="#8a8a8a" stroke-width="0.9"/>
<line x1="366.20" y1="130.70" x2="366.20" y2="134.30" stroke="#666" stroke-width="0.9"/>
<rect x="311.80" y="126.70" width="27.50" height="5.6" fill="#fff" stroke="#6a6a6a" stroke-width="0.6"/>
<text x="312.70" y="131.10" font-family="Liberation Sans, sans-serif" font-size="4.6" fill="#111" textLength="25.70" lengthAdjust="spacingAndGlyphs">BX : 40.59%</text>
<line x1="311" y1="138.50" x2="360.50" y2="138.50" stroke="#8a8a8a" stroke-width="0.9"/>
<line x1="360.50" y1="136.70" x2="360.50" y2="140.30" stroke="#666" stroke-width="0.9"/>
<rect x="311.80" y="133.10" width="27.50" height="5.6" fill="#fff" stroke="#6a6a6a" stroke-width="0.6"/>
<text x="312.70" y="137.50" font-family="Liberation Sans, sans-serif" font-size="4.6" fill="#111" textLength="25.70" lengthAdjust="spacingAndGlyphs">BY : 34.22%</text>
<line x1="311" y1="144.50" x2="354.60" y2="144.50" stroke="#8a8a8a" stroke-width="0.9"/>
<line x1="354.60" y1="142.70" x2="354.60" y2="146.30" stroke="#666" stroke-width="0.9"/>
<rect x="311.80" y="139.10" width="27.50" height="5.6" fill="#fff" stroke="#6a6a6a" stroke-width="0.6"/>
<text x="312.70" y="143.50" font-family="Liberation Sans, sans-serif" font-size="4.6" fill="#111" textLength="25.70" lengthAdjust="spacingAndGlyphs">CA : 20.18%</text>
<line x1="311" y1="150.50" x2="349.70" y2="150.50" stroke="#8a8a8a" stroke-width="0.9"/>
<line x1="349.70" y1="148.70" x2="349.70" y2="152.30" stroke="#666" stroke-width="0.9"/>
<rect x="311.80" y="145.10" width="25.20" height="5.6" fill="#fff" stroke="#6a6a6a" stroke-width="0.6"/>
<text x="312.70" y="149.50" font-family="Liberation Sans, sans-serif" font-size="4.6" fill="#111" textLength="23.40" lengthAdjust="spacingAndGlyphs">BZ : 8.68%</text>
<line x1="311" y1="156.50" x2="344.00" y2="156.50" stroke="#8a8a8a" stroke-width="0.9"/>
<line x1="344.00" y1="154.70" x2="344.00" y2="158.30" stroke="#666" stroke-width="0.9"/>
<rect x="311.80" y="151.10" width="25.20" height="5.6" fill="#fff" stroke="#6a6a6a" stroke-width="0.6"/>
<text x="312.70" y="155.50" font-family="Liberation Sans, sans-serif" font-size="4.6" fill="#111" textLength="23.40" lengthAdjust="spacingAndGlyphs">CC : 3.20%</text>
<path d="M342.50,195.70L342.50,195.70L342.95,195.50L343.40,195.29L343.85,194.74L344.30,194.14L344.75,193.62L345.20,193.03L345.65,192.50L346.10,192.34L346.55,192.35L347.00,192.23L347.45,192.18L347.90,192.17L348.35,191.96L348.80,191.88L349.25,191.87L349.70,190.84L350.15,189.94L350.60,189.04L351.05,188.14L351.50,187.45L351.95,186.95L352.40,186.25L352.85,185.51L353.30,185.01L353.75,186.29L354.20,187.60L354.65,188.94L355.10,189.87L355.55,190.73L356.00,191.63L356.45,190.31L356.90,188.11L357.35,186.05L357.80,183.80L358.25,181.40L358.70,182.04L359.15,183.85L359.60,185.62L360.05,187.31L360.50,188.76L360.95,190.46L361.40,191.45L361.85,190.00L362.30,188.27L362.75,186.68L363.20,184.86L363.65,183.35L364.10,181.51L364.55,183.14L365.00,184.66L365.45,186.33L365.90,187.95L366.35,189.71L366.80,191.08L367.25,191.06L367.70,189.40L368.15,188.04L368.60,186.63L369.05,185.29L369.50,184.81L369.95,184.28L370.40,183.08L370.85,182.37L371.30,182.12L371.75,180.87L372.20,180.62L372.65,173.10L373.10,165.56L373.55,155.77L374.00,145.14L374.45,134.37L374.90,128.24L375.35,123.03L375.80,130.91L376.25,140.45L376.70,151.12L377.15,161.67L377.60,171.94L378.05,180.91L378.50,189.69L378.95,191.83L379.40,193.92L379.85,195.38L380.30,195.60L380.50,195.70Z" fill="#686868" stroke="#4a4a4a" stroke-width="0.6"/>
<rect x="311" y="118.7" width="77.5" height="76.99999999999999" fill="none" stroke="#9a9a9a" stroke-width="1"/>
<line x1="309" y1="195.70" x2="311" y2="195.70" stroke="#666" stroke-width="0.8"/>
<text x="308.00" y="197.60" font-family="Liberation Sans, sans-serif" font-size="5.5" font-weight="normal" text-anchor="end" fill="#2a2a2a" >0</text>
<line x1="309" y1="179.80" x2="311" y2="179.80" stroke="#666" stroke-width="0.8"/>
<text x="308.00" y="181.70" font-family="Liberation Sans, sans-serif" font-size="5.5" font-weight="normal" text-anchor="end" fill="#2a2a2a" >200</text>
<line x1="309" y1="163.90" x2="311" y2="163.90" stroke="#666" stroke-width="0.8"/>
<text x="308.00" y="165.80" font-family="Liberation Sans, sans-serif" font-size="5.5" font-weight="normal" text-anchor="end" fill="#2a2a2a" >400</text>
<line x1="309" y1="148.00" x2="311" y2="148.00" stroke="#666" stroke-width="0.8"/>
<text x="308.00" y="149.90" font-family="Liberation Sans, sans-serif" font-size="5.5" font-weight="normal" text-anchor="end" fill="#2a2a2a" >600</text>
<line x1="309" y1="132.10" x2="311" y2="132.10" stroke="#666" stroke-width="0.8"/>
<text x="308.00" y="134.00" font-family="Liberation Sans, sans-serif" font-size="5.5" font-weight="normal" text-anchor="end" fill="#2a2a2a" >800</text>
<line x1="330.38" y1="195.7" x2="330.38" y2="197.7" stroke="#777" stroke-width="0.7"/>
<text x="329.38" y="206.40" font-family="Liberation Sans, sans-serif" font-size="5.5" fill="#2a2a2a" text-anchor="middle">10<tspan dy="-2.2" font-size="3.8">0</tspan></text>
<line x1="349.75" y1="195.7" x2="349.75" y2="197.7" stroke="#777" stroke-width="0.7"/>
<text x="348.75" y="206.40" font-family="Liberation Sans, sans-serif" font-size="5.5" fill="#2a2a2a" text-anchor="middle">10<tspan dy="-2.2" font-size="3.8">1</tspan></text>
<line x1="369.12" y1="195.7" x2="369.12" y2="197.7" stroke="#777" stroke-width="0.7"/>
<text x="368.12" y="206.40" font-family="Liberation Sans, sans-serif" font-size="5.5" fill="#2a2a2a" text-anchor="middle">10<tspan dy="-2.2" font-size="3.8">2</tspan></text>
<line x1="388.50" y1="195.7" x2="388.50" y2="197.7" stroke="#777" stroke-width="0.7"/>
<text x="387.50" y="206.40" font-family="Liberation Sans, sans-serif" font-size="5.5" fill="#2a2a2a" text-anchor="middle">10<tspan dy="-2.2" font-size="3.8">3</tspan></text>
<line x1="311" y1="195.7" x2="388.5" y2="195.7" stroke="#555" stroke-width="1"/>
<line x1="416.5" y1="125.50" x2="477.00" y2="125.50" stroke="#8a8a8a" stroke-width="0.9"/>
<line x1="477.00" y1="123.70" x2="477.00" y2="127.30" stroke="#666" stroke-width="0.9"/>
<rect x="417.30" y="120.10" width="29.80" height="5.6" fill="#fff" stroke="#6a6a6a" stroke-width="0.6"/>
<text x="418.20" y="124.50" font-family="Liberation Sans, sans-serif" font-size="4.6" fill="#111" textLength="28.00" lengthAdjust="spacingAndGlyphs">CI : 100.00%</text>
<line x1="416.5" y1="132.50" x2="471.70" y2="132.50" stroke="#8a8a8a" stroke-width="0.9"/>
<line x1="471.70" y1="130.70" x2="471.70" y2="134.30" stroke="#666" stroke-width="0.9"/>
<rect x="417.30" y="126.70" width="27.50" height="5.6" fill="#fff" stroke="#6a6a6a" stroke-width="0.6"/>
<text x="418.20" y="131.10" font-family="Liberation Sans, sans-serif" font-size="4.6" fill="#111" textLength="25.70" lengthAdjust="spacingAndGlyphs">CE : 93.87%</text>
<line x1="416.5" y1="138.50" x2="466.00" y2="138.50" stroke="#8a8a8a" stroke-width="0.9"/>
<line x1="466.00" y1="136.70" x2="466.00" y2="140.30" stroke="#666" stroke-width="0.9"/>
<rect x="417.30" y="133.10" width="27.50" height="5.6" fill="#fff" stroke="#6a6a6a" stroke-width="0.6"/>
<text x="418.20" y="137.50" font-family="Liberation Sans, sans-serif" font-size="4.6" fill="#111" textLength="25.70" lengthAdjust="spacingAndGlyphs">CF : 67.53%</text>
<line x1="416.5" y1="144.50" x2="460.10" y2="144.50" stroke="#8a8a8a" stroke-width="0.9"/>
<line x1="460.10" y1="142.70" x2="460.10" y2="146.30" stroke="#666" stroke-width="0.9"/>
<rect x="417.30" y="139.10" width="27.50" height="5.6" fill="#fff" stroke="#6a6a6a" stroke-width="0.6"/>
<text x="418.20" y="143.50" font-family="Liberation Sans, sans-serif" font-size="4.6" fill="#111" textLength="25.70" lengthAdjust="spacingAndGlyphs">CH : 43.79%</text>
<line x1="416.5" y1="150.50" x2="455.20" y2="150.50" stroke="#8a8a8a" stroke-width="0.9"/>
<line x1="455.20" y1="148.70" x2="455.20" y2="152.30" stroke="#666" stroke-width="0.9"/>
<rect x="417.30" y="145.10" width="27.50" height="5.6" fill="#fff" stroke="#6a6a6a" stroke-width="0.6"/>
<text x="418.20" y="149.50" font-family="Liberation Sans, sans-serif" font-size="4.6" fill="#111" textLength="25.70" lengthAdjust="spacingAndGlyphs">CG : 23.57%</text>
<line x1="416.5" y1="156.50" x2="449.50" y2="156.50" stroke="#8a8a8a" stroke-width="0.9"/>
<line x1="449.50" y1="154.70" x2="449.50" y2="158.30" stroke="#666" stroke-width="0.9"/>
<rect x="417.30" y="151.10" width="25.20" height="5.6" fill="#fff" stroke="#6a6a6a" stroke-width="0.6"/>
<text x="418.20" y="155.50" font-family="Liberation Sans, sans-serif" font-size="4.6" fill="#111" textLength="23.40" lengthAdjust="spacingAndGlyphs">CJ : 7.40%</text>
<path d="M445.00,195.70L445.00,195.70L445.45,195.56L445.90,195.42L446.35,195.23L446.80,194.73L447.25,194.15L447.70,193.66L448.15,193.14L448.60,192.59L449.05,192.14L449.50,191.07L449.95,189.67L450.40,188.40L450.85,186.88L451.30,185.64L451.75,184.20L452.20,182.70L452.65,181.17L453.10,179.30L453.55,177.62L454.00,176.39L454.45,177.00L454.90,178.17L455.35,178.78L455.80,179.97L456.25,179.32L456.70,176.30L457.15,172.90L457.60,169.85L458.05,167.12L458.50,164.01L458.95,160.67L459.40,163.17L459.85,166.19L460.30,168.79L460.75,171.83L461.20,175.42L461.65,174.14L462.10,171.27L462.55,168.58L463.00,166.11L463.45,163.72L463.90,161.19L464.35,158.84L464.80,160.27L465.25,163.46L465.70,167.31L466.15,170.36L466.60,173.74L467.05,176.96L467.50,175.25L467.95,174.28L468.40,172.46L468.85,171.25L469.30,170.10L469.75,168.69L470.20,167.97L470.65,170.84L471.10,173.43L471.55,175.64L472.00,178.01L472.45,180.96L472.90,182.26L473.35,181.24L473.80,179.80L474.25,178.68L474.70,177.14L475.15,176.25L475.60,176.02L476.05,176.02L476.50,176.52L476.95,174.78L477.40,171.10L477.85,167.68L478.30,163.64L478.75,157.34L479.20,148.83L479.65,140.19L480.10,132.50L480.55,128.69L481.00,125.67L481.45,123.01L481.90,129.67L482.35,136.80L482.80,148.44L483.25,162.86L483.70,173.02L484.15,181.40L484.60,189.45L485.05,191.45L485.50,193.30L485.95,195.11L486.40,195.50L486.80,195.70Z" fill="#686868" stroke="#4a4a4a" stroke-width="0.6"/>
<rect x="416.5" y="118.7" width="77.5" height="76.99999999999999" fill="none" stroke="#9a9a9a" stroke-width="1"/>
<line x1="414.5" y1="195.70" x2="416.5" y2="195.70" stroke="#666" stroke-width="0.8"/>
<text x="413.50" y="197.60" font-family="Liberation Sans, sans-serif" font-size="5.5" font-weight="normal" text-anchor="end" fill="#2a2a2a" >0</text>
<line x1="414.5" y1="178.45" x2="416.5" y2="178.45" stroke="#666" stroke-width="0.8"/>
<text x="413.50" y="180.35" font-family="Liberation Sans, sans-serif" font-size="5.5" font-weight="normal" text-anchor="end" fill="#2a2a2a" >100</text>
<line x1="414.5" y1="161.20" x2="416.5" y2="161.20" stroke="#666" stroke-width="0.8"/>
<text x="413.50" y="163.10" font-family="Liberation Sans, sans-serif" font-size="5.5" font-weight="normal" text-anchor="end" fill="#2a2a2a" >200</text>
<line x1="414.5" y1="143.95" x2="416.5" y2="143.95" stroke="#666" stroke-width="0.8"/>
<text x="413.50" y="145.85" font-family="Liberation Sans, sans-serif" font-size="5.5" font-weight="normal" text-anchor="end" fill="#2a2a2a" >300</text>
<line x1="414.5" y1="126.70" x2="416.5" y2="126.70" stroke="#666" stroke-width="0.8"/>
<text x="413.50" y="128.60" font-family="Liberation Sans, sans-serif" font-size="5.5" font-weight="normal" text-anchor="end" fill="#2a2a2a" >400</text>
<line x1="435.88" y1="195.7" x2="435.88" y2="197.7" stroke="#777" stroke-width="0.7"/>
<text x="434.88" y="206.40" font-family="Liberation Sans, sans-serif" font-size="5.5" fill="#2a2a2a" text-anchor="middle">10<tspan dy="-2.2" font-size="3.8">0</tspan></text>
<line x1="455.25" y1="195.7" x2="455.25" y2="197.7" stroke="#777" stroke-width="0.7"/>
<text x="454.25" y="206.40" font-family="Liberation Sans, sans-serif" font-size="5.5" fill="#2a2a2a" text-anchor="middle">10<tspan dy="-2.2" font-size="3.8">1</tspan></text>
<line x1="474.62" y1="195.7" x2="474.62" y2="197.7" stroke="#777" stroke-width="0.7"/>
<text x="473.62" y="206.40" font-family="Liberation Sans, sans-serif" font-size="5.5" fill="#2a2a2a" text-anchor="middle">10<tspan dy="-2.2" font-size="3.8">2</tspan></text>
<line x1="494.00" y1="195.7" x2="494.00" y2="197.7" stroke="#777" stroke-width="0.7"/>
<text x="493.00" y="206.40" font-family="Liberation Sans, sans-serif" font-size="5.5" fill="#2a2a2a" text-anchor="middle">10<tspan dy="-2.2" font-size="3.8">3</tspan></text>
<line x1="416.5" y1="195.7" x2="494" y2="195.7" stroke="#555" stroke-width="1"/>
<line x1="311" y1="219.50" x2="371.50" y2="219.50" stroke="#8a8a8a" stroke-width="0.9"/>
<line x1="371.50" y1="217.70" x2="371.50" y2="221.30" stroke="#666" stroke-width="0.9"/>
<rect x="311.80" y="213.20" width="29.80" height="5.6" fill="#fff" stroke="#6a6a6a" stroke-width="0.6"/>
<text x="312.70" y="217.60" font-family="Liberation Sans, sans-serif" font-size="4.6" fill="#111" textLength="28.00" lengthAdjust="spacingAndGlyphs">CA : 100.00%</text>
<line x1="311" y1="225.50" x2="366.20" y2="225.50" stroke="#8a8a8a" stroke-width="0.9"/>
<line x1="366.20" y1="223.70" x2="366.20" y2="227.30" stroke="#666" stroke-width="0.9"/>
<rect x="311.80" y="219.80" width="25.20" height="5.6" fill="#fff" stroke="#6a6a6a" stroke-width="0.6"/>
<text x="312.70" y="224.20" font-family="Liberation Sans, sans-serif" font-size="4.6" fill="#111" textLength="23.40" lengthAdjust="spacingAndGlyphs">BW : 4.02%</text>
<line x1="311" y1="231.50" x2="360.50" y2="231.50" stroke="#8a8a8a" stroke-width="0.9"/>
<line x1="360.50" y1="229.70" x2="360.50" y2="233.30" stroke="#666" stroke-width="0.9"/>
<rect x="311.80" y="226.20" width="25.20" height="5.6" fill="#fff" stroke="#6a6a6a" stroke-width="0.6"/>
<text x="312.70" y="230.60" font-family="Liberation Sans, sans-serif" font-size="4.6" fill="#111" textLength="23.40" lengthAdjust="spacingAndGlyphs">BX : 1.69%</text>
<line x1="311" y1="237.50" x2="354.60" y2="237.50" stroke="#8a8a8a" stroke-width="0.9"/>
<line x1="354.60" y1="235.70" x2="354.60" y2="239.30" stroke="#666" stroke-width="0.9"/>
<rect x="311.80" y="232.20" width="25.20" height="5.6" fill="#fff" stroke="#6a6a6a" stroke-width="0.6"/>
<text x="312.70" y="236.60" font-family="Liberation Sans, sans-serif" font-size="4.6" fill="#111" textLength="23.40" lengthAdjust="spacingAndGlyphs">BZ : 0.78%</text>
<line x1="311" y1="243.50" x2="349.70" y2="243.50" stroke="#8a8a8a" stroke-width="0.9"/>
<line x1="349.70" y1="241.70" x2="349.70" y2="245.30" stroke="#666" stroke-width="0.9"/>
<rect x="311.80" y="238.20" width="25.20" height="5.6" fill="#fff" stroke="#6a6a6a" stroke-width="0.6"/>
<text x="312.70" y="242.60" font-family="Liberation Sans, sans-serif" font-size="4.6" fill="#111" textLength="23.40" lengthAdjust="spacingAndGlyphs">B1 : 0.14%</text>
<line x1="311" y1="249.50" x2="344.00" y2="249.50" stroke="#8a8a8a" stroke-width="0.9"/>
<line x1="344.00" y1="247.70" x2="344.00" y2="251.30" stroke="#666" stroke-width="0.9"/>
<rect x="311.80" y="244.20" width="25.20" height="5.6" fill="#fff" stroke="#6a6a6a" stroke-width="0.6"/>
<text x="312.70" y="248.60" font-family="Liberation Sans, sans-serif" font-size="4.6" fill="#111" textLength="23.40" lengthAdjust="spacingAndGlyphs">CB : 0.00%</text>
<path d="M368.50,288.40L368.50,288.40L368.95,288.16L369.40,287.92L369.85,287.62L370.30,286.75L370.75,285.95L371.20,285.14L371.65,284.24L372.10,283.61L372.55,282.61L373.00,280.73L373.45,278.52L373.90,276.27L374.35,273.79L374.80,269.89L375.25,260.80L375.70,251.81L376.15,242.19L376.60,228.29L377.05,217.79L377.50,233.15L377.95,246.37L378.40,255.23L378.85,263.80L379.30,269.25L379.75,273.83L380.20,278.62L380.65,281.78L381.10,283.40L381.55,284.90L382.00,286.34L382.45,287.73L382.90,288.02L383.35,288.30L383.50,288.40Z" fill="#686868" stroke="#4a4a4a" stroke-width="0.6"/>
<rect x="311" y="211.8" width="77.5" height="76.59999999999997" fill="none" stroke="#9a9a9a" stroke-width="1"/>
<line x1="309" y1="288.40" x2="311" y2="288.40" stroke="#666" stroke-width="0.8"/>
<text x="308.00" y="290.30" font-family="Liberation Sans, sans-serif" font-size="5.5" font-weight="normal" text-anchor="end" fill="#2a2a2a" >0</text>
<line x1="309" y1="270.00" x2="311" y2="270.00" stroke="#666" stroke-width="0.8"/>
<text x="308.00" y="271.90" font-family="Liberation Sans, sans-serif" font-size="5.5" font-weight="normal" text-anchor="end" fill="#2a2a2a" >200</text>
<line x1="309" y1="251.60" x2="311" y2="251.60" stroke="#666" stroke-width="0.8"/>
<text x="308.00" y="253.50" font-family="Liberation Sans, sans-serif" font-size="5.5" font-weight="normal" text-anchor="end" fill="#2a2a2a" >400</text>
<line x1="309" y1="233.20" x2="311" y2="233.20" stroke="#666" stroke-width="0.8"/>
<text x="308.00" y="235.10" font-family="Liberation Sans, sans-serif" font-size="5.5" font-weight="normal" text-anchor="end" fill="#2a2a2a" >600</text>
<line x1="309" y1="214.80" x2="311" y2="214.80" stroke="#666" stroke-width="0.8"/>
<text x="308.00" y="216.70" font-family="Liberation Sans, sans-serif" font-size="5.5" font-weight="normal" text-anchor="end" fill="#2a2a2a" >800</text>
<line x1="330.38" y1="288.4" x2="330.38" y2="290.4" stroke="#777" stroke-width="0.7"/>
<text x="329.38" y="299.10" font-family="Liberation Sans, sans-serif" font-size="5.5" fill="#2a2a2a" text-anchor="middle">10<tspan dy="-2.2" font-size="3.8">0</tspan></text>
<line x1="349.75" y1="288.4" x2="349.75" y2="290.4" stroke="#777" stroke-width="0.7"/>
<text x="348.75" y="299.10" font-family="Liberation Sans, sans-serif" font-size="5.5" fill="#2a2a2a" text-anchor="middle">10<tspan dy="-2.2" font-size="3.8">1</tspan></text>
<line x1="369.12" y1="288.4" x2="369.12" y2="290.4" stroke="#777" stroke-width="0.7"/>
<text x="368.12" y="299.10" font-family="Liberation Sans, sans-serif" font-size="5.5" fill="#2a2a2a" text-anchor="middle">10<tspan dy="-2.2" font-size="3.8">2</tspan></text>
<line x1="388.50" y1="288.4" x2="388.50" y2="290.4" stroke="#777" stroke-width="0.7"/>
<text x="387.50" y="299.10" font-family="Liberation Sans, sans-serif" font-size="5.5" fill="#2a2a2a" text-anchor="middle">10<tspan dy="-2.2" font-size="3.8">3</tspan></text>
<line x1="311" y1="288.4" x2="388.5" y2="288.4" stroke="#555" stroke-width="1"/>
<line x1="310.5" y1="212.10000000000002" x2="389.0" y2="212.10000000000002" stroke="#222" stroke-width="2"/>
<line x1="416.5" y1="219.50" x2="477.00" y2="219.50" stroke="#8a8a8a" stroke-width="0.9"/>
<line x1="477.00" y1="217.70" x2="477.00" y2="221.30" stroke="#666" stroke-width="0.9"/>
<rect x="417.30" y="213.20" width="29.80" height="5.6" fill="#fff" stroke="#6a6a6a" stroke-width="0.6"/>
<text x="418.20" y="217.60" font-family="Liberation Sans, sans-serif" font-size="4.6" fill="#111" textLength="28.00" lengthAdjust="spacingAndGlyphs">CH : 100.00%</text>
<line x1="416.5" y1="225.50" x2="471.70" y2="225.50" stroke="#8a8a8a" stroke-width="0.9"/>
<line x1="471.70" y1="223.70" x2="471.70" y2="227.30" stroke="#666" stroke-width="0.9"/>
<rect x="417.30" y="219.80" width="25.20" height="5.6" fill="#fff" stroke="#6a6a6a" stroke-width="0.6"/>
<text x="418.20" y="224.20" font-family="Liberation Sans, sans-serif" font-size="4.6" fill="#111" textLength="23.40" lengthAdjust="spacingAndGlyphs">CD : 7.59%</text>
<line x1="416.5" y1="231.50" x2="466.00" y2="231.50" stroke="#8a8a8a" stroke-width="0.9"/>
<line x1="466.00" y1="229.70" x2="466.00" y2="233.30" stroke="#666" stroke-width="0.9"/>
<rect x="417.30" y="226.20" width="25.20" height="5.6" fill="#fff" stroke="#6a6a6a" stroke-width="0.6"/>
<text x="418.20" y="230.60" font-family="Liberation Sans, sans-serif" font-size="4.6" fill="#111" textLength="23.40" lengthAdjust="spacingAndGlyphs">CE : 2.11%</text>
<line x1="416.5" y1="237.50" x2="460.10" y2="237.50" stroke="#8a8a8a" stroke-width="0.9"/>
<line x1="460.10" y1="235.70" x2="460.10" y2="239.30" stroke="#666" stroke-width="0.9"/>
<rect x="417.30" y="232.20" width="25.20" height="5.6" fill="#fff" stroke="#6a6a6a" stroke-width="0.6"/>
<text x="418.20" y="236.60" font-family="Liberation Sans, sans-serif" font-size="4.6" fill="#111" textLength="23.40" lengthAdjust="spacingAndGlyphs">CG : 0.78%</text>
<line x1="416.5" y1="243.50" x2="455.20" y2="243.50" stroke="#8a8a8a" stroke-width="0.9"/>
<line x1="455.20" y1="241.70" x2="455.20" y2="245.30" stroke="#666" stroke-width="0.9"/>
<rect x="417.30" y="238.20" width="25.20" height="5.6" fill="#fff" stroke="#6a6a6a" stroke-width="0.6"/>
<text x="418.20" y="242.60" font-family="Liberation Sans, sans-serif" font-size="4.6" fill="#111" textLength="23.40" lengthAdjust="spacingAndGlyphs">CF : 0.12%</text>
<line x1="416.5" y1="249.50" x2="449.50" y2="249.50" stroke="#8a8a8a" stroke-width="0.9"/>
<line x1="449.50" y1="247.70" x2="449.50" y2="251.30" stroke="#666" stroke-width="0.9"/>
<rect x="417.30" y="244.20" width="25.20" height="5.6" fill="#fff" stroke="#6a6a6a" stroke-width="0.6"/>
<text x="418.20" y="248.60" font-family="Liberation Sans, sans-serif" font-size="4.6" fill="#111" textLength="23.40" lengthAdjust="spacingAndGlyphs">CI : 0.00%</text>
<path d="M471.00,288.40L471.00,288.40L471.45,288.37L471.90,288.33L472.35,288.26L472.80,287.91L473.25,287.54L473.70,287.20L474.15,286.80L474.60,286.46L475.05,286.12L475.50,285.34L475.95,284.57L476.40,283.56L476.85,282.78L477.30,281.81L477.75,280.81L478.20,279.57L478.65,276.94L479.10,274.12L479.55,271.89L480.00,268.94L480.45,265.52L480.90,258.68L481.35,251.96L481.80,245.20L482.25,234.81L482.70,223.47L483.15,221.31L483.60,236.34L484.05,248.20L484.50,256.90L484.95,265.73L485.40,270.90L485.85,275.68L486.30,280.59L486.75,283.62L487.20,285.37L487.65,287.10L488.10,287.90L488.55,288.22L488.80,288.40Z" fill="#686868" stroke="#4a4a4a" stroke-width="0.6"/>
<rect x="416.5" y="211.8" width="77.5" height="76.59999999999997" fill="none" stroke="#9a9a9a" stroke-width="1"/>
<line x1="414.5" y1="288.40" x2="416.5" y2="288.40" stroke="#666" stroke-width="0.8"/>
<text x="413.50" y="290.30" font-family="Liberation Sans, sans-serif" font-size="5.5" font-weight="normal" text-anchor="end" fill="#2a2a2a" >0</text>
<line x1="414.5" y1="271.20" x2="416.5" y2="271.20" stroke="#666" stroke-width="0.8"/>
<text x="413.50" y="273.10" font-family="Liberation Sans, sans-serif" font-size="5.5" font-weight="normal" text-anchor="end" fill="#2a2a2a" >100</text>
<line x1="414.5" y1="254.00" x2="416.5" y2="254.00" stroke="#666" stroke-width="0.8"/>
<text x="413.50" y="255.90" font-family="Liberation Sans, sans-serif" font-size="5.5" font-weight="normal" text-anchor="end" fill="#2a2a2a" >200</text>
<line x1="414.5" y1="236.80" x2="416.5" y2="236.80" stroke="#666" stroke-width="0.8"/>
<text x="413.50" y="238.70" font-family="Liberation Sans, sans-serif" font-size="5.5" font-weight="normal" text-anchor="end" fill="#2a2a2a" >300</text>
<line x1="414.5" y1="219.60" x2="416.5" y2="219.60" stroke="#666" stroke-width="0.8"/>
<text x="413.50" y="221.50" font-family="Liberation Sans, sans-serif" font-size="5.5" font-weight="normal" text-anchor="end" fill="#2a2a2a" >400</text>
<line x1="435.88" y1="288.4" x2="435.88" y2="290.4" stroke="#777" stroke-width="0.7"/>
<text x="434.88" y="299.10" font-family="Liberation Sans, sans-serif" font-size="5.5" fill="#2a2a2a" text-anchor="middle">10<tspan dy="-2.2" font-size="3.8">0</tspan></text>
<line x1="455.25" y1="288.4" x2="455.25" y2="290.4" stroke="#777" stroke-width="0.7"/>
<text x="454.25" y="299.10" font-family="Liberation Sans, sans-serif" font-size="5.5" fill="#2a2a2a" text-anchor="middle">10<tspan dy="-2.2" font-size="3.8">1</tspan></text>
<line x1="474.62" y1="288.4" x2="474.62" y2="290.4" stroke="#777" stroke-width="0.7"/>
<text x="473.62" y="299.10" font-family="Liberation Sans, sans-serif" font-size="5.5" fill="#2a2a2a" text-anchor="middle">10<tspan dy="-2.2" font-size="3.8">2</tspan></text>
<line x1="494.00" y1="288.4" x2="494.00" y2="290.4" stroke="#777" stroke-width="0.7"/>
<text x="493.00" y="299.10" font-family="Liberation Sans, sans-serif" font-size="5.5" fill="#2a2a2a" text-anchor="middle">10<tspan dy="-2.2" font-size="3.8">3</tspan></text>
<line x1="416.5" y1="288.4" x2="494" y2="288.4" stroke="#555" stroke-width="1"/>
<line x1="416.0" y1="212.10000000000002" x2="494.5" y2="212.10000000000002" stroke="#222" stroke-width="2"/>
<line x1="311" y1="314.50" x2="371.50" y2="314.50" stroke="#8a8a8a" stroke-width="0.9"/>
<line x1="371.50" y1="312.70" x2="371.50" y2="316.30" stroke="#666" stroke-width="0.9"/>
<rect x="311.80" y="308.40" width="29.80" height="5.6" fill="#fff" stroke="#6a6a6a" stroke-width="0.6"/>
<text x="312.70" y="312.80" font-family="Liberation Sans, sans-serif" font-size="4.6" fill="#111" textLength="28.00" lengthAdjust="spacingAndGlyphs">CB : 100.00%</text>
<line x1="311" y1="320.50" x2="366.20" y2="320.50" stroke="#8a8a8a" stroke-width="0.9"/>
<line x1="366.20" y1="318.70" x2="366.20" y2="322.30" stroke="#666" stroke-width="0.9"/>
<rect x="311.80" y="315.00" width="27.50" height="5.6" fill="#fff" stroke="#6a6a6a" stroke-width="0.6"/>
<text x="312.70" y="319.40" font-family="Liberation Sans, sans-serif" font-size="4.6" fill="#111" textLength="25.70" lengthAdjust="spacingAndGlyphs">BX : 89.85%</text>
<line x1="311" y1="326.50" x2="360.50" y2="326.50" stroke="#8a8a8a" stroke-width="0.9"/>
<line x1="360.50" y1="324.70" x2="360.50" y2="328.30" stroke="#666" stroke-width="0.9"/>
<rect x="311.80" y="321.40" width="27.50" height="5.6" fill="#fff" stroke="#6a6a6a" stroke-width="0.6"/>
<text x="312.70" y="325.80" font-family="Liberation Sans, sans-serif" font-size="4.6" fill="#111" textLength="25.70" lengthAdjust="spacingAndGlyphs">BY : 55.99%</text>
<line x1="311" y1="332.50" x2="354.60" y2="332.50" stroke="#8a8a8a" stroke-width="0.9"/>
<line x1="354.60" y1="330.70" x2="354.60" y2="334.30" stroke="#666" stroke-width="0.9"/>
<rect x="311.80" y="327.40" width="27.50" height="5.6" fill="#fff" stroke="#6a6a6a" stroke-width="0.6"/>
<text x="312.70" y="331.80" font-family="Liberation Sans, sans-serif" font-size="4.6" fill="#111" textLength="25.70" lengthAdjust="spacingAndGlyphs">CA : 34.29%</text>
<line x1="311" y1="338.50" x2="349.70" y2="338.50" stroke="#8a8a8a" stroke-width="0.9"/>
<line x1="349.70" y1="336.70" x2="349.70" y2="340.30" stroke="#666" stroke-width="0.9"/>
<rect x="311.80" y="333.40" width="25.20" height="5.6" fill="#fff" stroke="#6a6a6a" stroke-width="0.6"/>
<text x="312.70" y="337.80" font-family="Liberation Sans, sans-serif" font-size="4.6" fill="#111" textLength="23.40" lengthAdjust="spacingAndGlyphs">BZ : 8.70%</text>
<line x1="311" y1="344.50" x2="344.00" y2="344.50" stroke="#8a8a8a" stroke-width="0.9"/>
<line x1="344.00" y1="342.70" x2="344.00" y2="346.30" stroke="#666" stroke-width="0.9"/>
<rect x="311.80" y="339.40" width="25.20" height="5.6" fill="#fff" stroke="#6a6a6a" stroke-width="0.6"/>
<text x="312.70" y="343.80" font-family="Liberation Sans, sans-serif" font-size="4.6" fill="#111" textLength="23.40" lengthAdjust="spacingAndGlyphs">CC : 1.17%</text>
<path d="M343.50,384.00L343.50,384.00L343.95,383.71L344.40,383.43L344.85,383.02L345.30,382.46L345.75,381.92L346.20,381.41L346.65,380.97L347.10,380.42L347.55,379.73L348.00,377.75L348.45,376.04L348.90,374.29L349.35,372.40L349.80,370.94L350.25,368.15L350.70,365.74L351.15,363.57L351.60,361.52L352.05,361.18L352.50,360.96L352.95,362.81L353.40,364.52L353.85,362.94L354.30,359.73L354.75,356.86L355.20,350.11L355.65,341.79L356.10,333.96L356.55,332.17L357.00,330.60L357.45,332.66L357.90,337.69L358.35,342.54L358.80,347.51L359.25,350.79L359.70,353.15L360.15,353.88L360.60,349.74L361.05,345.14L361.50,340.56L361.95,337.20L362.40,335.94L362.85,335.09L363.30,337.18L363.75,340.88L364.20,345.15L364.65,349.37L365.10,352.99L365.55,357.16L366.00,360.12L366.45,358.34L366.90,356.72L367.35,354.85L367.80,352.96L368.25,351.72L368.70,352.14L369.15,355.61L369.60,358.77L370.05,361.99L370.50,359.41L370.95,355.68L371.40,351.77L371.85,345.74L372.30,338.17L372.75,330.45L373.20,323.06L373.65,319.30L374.10,317.10L374.55,314.41L375.00,312.16L375.45,316.25L375.90,322.77L376.35,331.29L376.80,343.03L377.25,355.28L377.70,363.36L378.15,369.80L378.60,375.69L379.05,380.33L379.50,381.53L379.95,382.65L380.40,383.48L380.85,383.87L381.00,384.00Z" fill="#686868" stroke="#4a4a4a" stroke-width="0.6"/>
<rect x="311" y="307" width="77.5" height="77" fill="none" stroke="#9a9a9a" stroke-width="1"/>
<line x1="309" y1="384.00" x2="311" y2="384.00" stroke="#666" stroke-width="0.8"/>
<text x="308.00" y="385.90" font-family="Liberation Sans, sans-serif" font-size="5.5" font-weight="normal" text-anchor="end" fill="#2a2a2a" >0</text>
<line x1="309" y1="364.60" x2="311" y2="364.60" stroke="#666" stroke-width="0.8"/>
<text x="308.00" y="366.50" font-family="Liberation Sans, sans-serif" font-size="5.5" font-weight="normal" text-anchor="end" fill="#2a2a2a" >200</text>
<line x1="309" y1="345.20" x2="311" y2="345.20" stroke="#666" stroke-width="0.8"/>
<text x="308.00" y="347.10" font-family="Liberation Sans, sans-serif" font-size="5.5" font-weight="normal" text-anchor="end" fill="#2a2a2a" >400</text>
<line x1="309" y1="325.80" x2="311" y2="325.80" stroke="#666" stroke-width="0.8"/>
<text x="308.00" y="327.70" font-family="Liberation Sans, sans-serif" font-size="5.5" font-weight="normal" text-anchor="end" fill="#2a2a2a" >600</text>
<line x1="330.38" y1="384" x2="330.38" y2="386" stroke="#777" stroke-width="0.7"/>
<text x="329.38" y="394.70" font-family="Liberation Sans, sans-serif" font-size="5.5" fill="#2a2a2a" text-anchor="middle">10<tspan dy="-2.2" font-size="3.8">0</tspan></text>
<line x1="349.75" y1="384" x2="349.75" y2="386" stroke="#777" stroke-width="0.7"/>
<text x="348.75" y="394.70" font-family="Liberation Sans, sans-serif" font-size="5.5" fill="#2a2a2a" text-anchor="middle">10<tspan dy="-2.2" font-size="3.8">1</tspan></text>
<line x1="369.12" y1="384" x2="369.12" y2="386" stroke="#777" stroke-width="0.7"/>
<text x="368.12" y="394.70" font-family="Liberation Sans, sans-serif" font-size="5.5" fill="#2a2a2a" text-anchor="middle">10<tspan dy="-2.2" font-size="3.8">2</tspan></text>
<line x1="388.50" y1="384" x2="388.50" y2="386" stroke="#777" stroke-width="0.7"/>
<text x="387.50" y="394.70" font-family="Liberation Sans, sans-serif" font-size="5.5" fill="#2a2a2a" text-anchor="middle">10<tspan dy="-2.2" font-size="3.8">3</tspan></text>
<line x1="311" y1="384" x2="388.5" y2="384" stroke="#555" stroke-width="1"/>
<line x1="416.5" y1="314.50" x2="477.00" y2="314.50" stroke="#8a8a8a" stroke-width="0.9"/>
<line x1="477.00" y1="312.70" x2="477.00" y2="316.30" stroke="#666" stroke-width="0.9"/>
<rect x="417.30" y="308.40" width="29.80" height="5.6" fill="#fff" stroke="#6a6a6a" stroke-width="0.6"/>
<text x="418.20" y="312.80" font-family="Liberation Sans, sans-serif" font-size="4.6" fill="#111" textLength="28.00" lengthAdjust="spacingAndGlyphs">CI : 100.00%</text>
<line x1="416.5" y1="320.50" x2="471.70" y2="320.50" stroke="#8a8a8a" stroke-width="0.9"/>
<line x1="471.70" y1="318.70" x2="471.70" y2="322.30" stroke="#666" stroke-width="0.9"/>
<rect x="417.30" y="315.00" width="27.50" height="5.6" fill="#fff" stroke="#6a6a6a" stroke-width="0.6"/>
<text x="418.20" y="319.40" font-family="Liberation Sans, sans-serif" font-size="4.6" fill="#111" textLength="25.70" lengthAdjust="spacingAndGlyphs">CE : 72.54%</text>
<line x1="416.5" y1="326.50" x2="466.00" y2="326.50" stroke="#8a8a8a" stroke-width="0.9"/>
<line x1="466.00" y1="324.70" x2="466.00" y2="328.30" stroke="#666" stroke-width="0.9"/>
<rect x="417.30" y="321.40" width="27.50" height="5.6" fill="#fff" stroke="#6a6a6a" stroke-width="0.6"/>
<text x="418.20" y="325.80" font-family="Liberation Sans, sans-serif" font-size="4.6" fill="#111" textLength="25.70" lengthAdjust="spacingAndGlyphs">CF : 61.80%</text>
<line x1="416.5" y1="332.50" x2="460.10" y2="332.50" stroke="#8a8a8a" stroke-width="0.9"/>
<line x1="460.10" y1="330.70" x2="460.10" y2="334.30" stroke="#666" stroke-width="0.9"/>
<rect x="417.30" y="327.40" width="27.50" height="5.6" fill="#fff" stroke="#6a6a6a" stroke-width="0.6"/>
<text x="418.20" y="331.80" font-family="Liberation Sans, sans-serif" font-size="4.6" fill="#111" textLength="25.70" lengthAdjust="spacingAndGlyphs">CH : 44.89%</text>
<line x1="416.5" y1="338.50" x2="455.20" y2="338.50" stroke="#8a8a8a" stroke-width="0.9"/>
<line x1="455.20" y1="336.70" x2="455.20" y2="340.30" stroke="#666" stroke-width="0.9"/>
<rect x="417.30" y="333.40" width="27.50" height="5.6" fill="#fff" stroke="#6a6a6a" stroke-width="0.6"/>
<text x="418.20" y="337.80" font-family="Liberation Sans, sans-serif" font-size="4.6" fill="#111" textLength="25.70" lengthAdjust="spacingAndGlyphs">CG : 19.82%</text>
<line x1="416.5" y1="344.50" x2="449.50" y2="344.50" stroke="#8a8a8a" stroke-width="0.9"/>
<line x1="449.50" y1="342.70" x2="449.50" y2="346.30" stroke="#666" stroke-width="0.9"/>
<rect x="417.30" y="339.40" width="25.20" height="5.6" fill="#fff" stroke="#6a6a6a" stroke-width="0.6"/>
<text x="418.20" y="343.80" font-family="Liberation Sans, sans-serif" font-size="4.6" fill="#111" textLength="23.40" lengthAdjust="spacingAndGlyphs">CJ : 5.74%</text>
<path d="M445.50,384.00L445.50,384.00L445.95,383.77L446.40,383.55L446.85,383.32L447.30,382.66L447.75,381.90L448.20,381.14L448.65,380.29L449.10,379.65L449.55,378.83L450.00,378.22L450.45,377.33L450.90,376.01L451.35,374.93L451.80,373.71L452.25,372.72L452.70,371.66L453.15,371.17L453.60,370.49L454.05,369.93L454.50,369.19L454.95,367.98L455.40,363.87L455.85,359.76L456.30,355.79L456.75,351.73L457.20,348.32L457.65,345.31L458.10,341.33L458.55,343.90L459.00,347.92L459.45,352.11L459.90,353.27L460.35,354.19L460.80,353.56L461.25,347.34L461.70,341.79L462.15,335.75L462.60,330.98L463.05,327.97L463.50,324.99L463.95,329.62L464.40,335.97L464.85,342.02L465.30,345.77L465.75,349.05L466.20,353.17L466.65,353.08L467.10,351.27L467.55,348.69L468.00,346.42L468.45,343.71L468.90,341.70L469.35,339.97L469.80,343.47L470.25,347.24L470.70,350.77L471.15,353.78L471.60,355.96L472.05,357.64L472.50,359.21L472.95,359.86L473.40,358.10L473.85,356.99L474.30,354.98L474.75,355.25L475.20,356.86L475.65,358.60L476.10,359.80L476.55,358.61L477.00,356.50L477.45,354.82L477.90,352.51L478.35,350.85L478.80,344.27L479.25,335.82L479.70,327.10L480.15,319.53L480.60,315.28L481.05,311.57L481.50,316.18L481.95,322.60L482.40,330.01L482.85,343.14L483.30,356.43L483.75,364.65L484.20,370.93L484.65,377.56L485.10,380.80L485.55,382.04L486.00,383.29L486.45,383.61L486.90,383.93L487.00,384.00Z" fill="#686868" stroke="#4a4a4a" stroke-width="0.6"/>
<rect x="416.5" y="307" width="77.5" height="77" fill="none" stroke="#9a9a9a" stroke-width="1"/>
<line x1="414.5" y1="384.00" x2="416.5" y2="384.00" stroke="#666" stroke-width="0.8"/>
<text x="413.50" y="385.90" font-family="Liberation Sans, sans-serif" font-size="5.5" font-weight="normal" text-anchor="end" fill="#2a2a2a" >0</text>
<line x1="414.5" y1="367.20" x2="416.5" y2="367.20" stroke="#666" stroke-width="0.8"/>
<text x="413.50" y="369.10" font-family="Liberation Sans, sans-serif" font-size="5.5" font-weight="normal" text-anchor="end" fill="#2a2a2a" >100</text>
<line x1="414.5" y1="350.40" x2="416.5" y2="350.40" stroke="#666" stroke-width="0.8"/>
<text x="413.50" y="352.30" font-family="Liberation Sans, sans-serif" font-size="5.5" font-weight="normal" text-anchor="end" fill="#2a2a2a" >200</text>
<line x1="414.5" y1="333.60" x2="416.5" y2="333.60" stroke="#666" stroke-width="0.8"/>
<text x="413.50" y="335.50" font-family="Liberation Sans, sans-serif" font-size="5.5" font-weight="normal" text-anchor="end" fill="#2a2a2a" >300</text>
<line x1="414.5" y1="316.80" x2="416.5" y2="316.80" stroke="#666" stroke-width="0.8"/>
<text x="413.50" y="318.70" font-family="Liberation Sans, sans-serif" font-size="5.5" font-weight="normal" text-anchor="end" fill="#2a2a2a" >400</text>
<line x1="435.88" y1="384" x2="435.88" y2="386" stroke="#777" stroke-width="0.7"/>
<text x="434.88" y="394.70" font-family="Liberation Sans, sans-serif" font-size="5.5" fill="#2a2a2a" text-anchor="middle">10<tspan dy="-2.2" font-size="3.8">0</tspan></text>
<line x1="455.25" y1="384" x2="455.25" y2="386" stroke="#777" stroke-width="0.7"/>
<text x="454.25" y="394.70" font-family="Liberation Sans, sans-serif" font-size="5.5" fill="#2a2a2a" text-anchor="middle">10<tspan dy="-2.2" font-size="3.8">1</tspan></text>
<line x1="474.62" y1="384" x2="474.62" y2="386" stroke="#777" stroke-width="0.7"/>
<text x="473.62" y="394.70" font-family="Liberation Sans, sans-serif" font-size="5.5" fill="#2a2a2a" text-anchor="middle">10<tspan dy="-2.2" font-size="3.8">2</tspan></text>
<line x1="494.00" y1="384" x2="494.00" y2="386" stroke="#777" stroke-width="0.7"/>
<text x="493.00" y="394.70" font-family="Liberation Sans, sans-serif" font-size="5.5" fill="#2a2a2a" text-anchor="middle">10<tspan dy="-2.2" font-size="3.8">3</tspan></text>
<line x1="416.5" y1="384" x2="494" y2="384" stroke="#555" stroke-width="1"/>
<line x1="311" y1="408.50" x2="371.50" y2="408.50" stroke="#8a8a8a" stroke-width="0.9"/>
<line x1="371.50" y1="406.70" x2="371.50" y2="410.30" stroke="#666" stroke-width="0.9"/>
<rect x="311.80" y="402.40" width="29.80" height="5.6" fill="#fff" stroke="#6a6a6a" stroke-width="0.6"/>
<text x="312.70" y="406.80" font-family="Liberation Sans, sans-serif" font-size="4.6" fill="#111" textLength="28.00" lengthAdjust="spacingAndGlyphs">CB : 100.00%</text>
<line x1="311" y1="414.50" x2="366.20" y2="414.50" stroke="#8a8a8a" stroke-width="0.9"/>
<line x1="366.20" y1="412.70" x2="366.20" y2="416.30" stroke="#666" stroke-width="0.9"/>
<rect x="311.80" y="409.00" width="27.50" height="5.6" fill="#fff" stroke="#6a6a6a" stroke-width="0.6"/>
<text x="312.70" y="413.40" font-family="Liberation Sans, sans-serif" font-size="4.6" fill="#111" textLength="25.70" lengthAdjust="spacingAndGlyphs">BX : 34.27%</text>
<line x1="311" y1="420.50" x2="360.50" y2="420.50" stroke="#8a8a8a" stroke-width="0.9"/>
<line x1="360.50" y1="418.70" x2="360.50" y2="422.30" stroke="#666" stroke-width="0.9"/>
<rect x="311.80" y="415.40" width="25.20" height="5.6" fill="#fff" stroke="#6a6a6a" stroke-width="0.6"/>
<text x="312.70" y="419.80" font-family="Liberation Sans, sans-serif" font-size="4.6" fill="#111" textLength="23.40" lengthAdjust="spacingAndGlyphs">BY : 5.84%</text>
<line x1="311" y1="426.50" x2="354.60" y2="426.50" stroke="#8a8a8a" stroke-width="0.9"/>
<line x1="354.60" y1="424.70" x2="354.60" y2="428.30" stroke="#666" stroke-width="0.9"/>
<rect x="311.80" y="421.40" width="25.20" height="5.6" fill="#fff" stroke="#6a6a6a" stroke-width="0.6"/>
<text x="312.70" y="425.80" font-family="Liberation Sans, sans-serif" font-size="4.6" fill="#111" textLength="23.40" lengthAdjust="spacingAndGlyphs">CA : 1.21%</text>
<line x1="311" y1="432.50" x2="349.70" y2="432.50" stroke="#8a8a8a" stroke-width="0.9"/>
<line x1="349.70" y1="430.70" x2="349.70" y2="434.30" stroke="#666" stroke-width="0.9"/>
<rect x="311.80" y="427.40" width="25.20" height="5.6" fill="#fff" stroke="#6a6a6a" stroke-width="0.6"/>
<text x="312.70" y="431.80" font-family="Liberation Sans, sans-serif" font-size="4.6" fill="#111" textLength="23.40" lengthAdjust="spacingAndGlyphs">BZ : 0.00%</text>
<line x1="311" y1="438.50" x2="344.00" y2="438.50" stroke="#8a8a8a" stroke-width="0.9"/>
<line x1="344.00" y1="436.70" x2="344.00" y2="440.30" stroke="#666" stroke-width="0.9"/>
<rect x="311.80" y="433.40" width="25.20" height="5.6" fill="#fff" stroke="#6a6a6a" stroke-width="0.6"/>
<text x="312.70" y="437.80" font-family="Liberation Sans, sans-serif" font-size="4.6" fill="#111" textLength="23.40" lengthAdjust="spacingAndGlyphs">CC : 0.00%</text>
<path d="M352.50,477.50L352.50,477.50L352.95,477.43L353.40,477.36L353.85,477.29L354.30,477.20L354.75,477.11L355.20,477.04L355.65,476.95L356.10,476.86L356.55,476.79L357.00,476.67L357.45,476.62L357.90,476.52L358.35,476.41L358.80,476.32L359.25,476.26L359.70,476.03L360.15,475.74L360.60,475.50L361.05,475.22L361.50,474.84L361.95,474.56L362.40,474.23L362.85,474.08L363.30,473.08L363.75,471.90L364.20,470.66L364.65,469.35L365.10,465.42L365.55,461.46L366.00,456.77L366.45,452.38L366.90,445.84L367.35,439.45L367.80,434.46L368.25,431.25L368.70,428.32L369.15,434.33L369.60,440.30L370.05,445.75L370.50,450.60L370.95,455.17L371.40,458.16L371.85,453.44L372.30,449.18L372.75,444.30L373.20,437.30L373.65,429.40L374.10,421.76L374.55,414.68L375.00,411.89L375.45,409.46L375.90,406.61L376.35,406.56L376.80,411.54L377.25,417.04L377.70,425.51L378.15,435.79L378.60,446.00L379.05,455.33L379.50,465.18L379.95,471.06L380.40,474.06L380.85,476.76L381.30,477.27L381.50,477.50Z" fill="#686868" stroke="#4a4a4a" stroke-width="0.6"/>
<rect x="311" y="401" width="77.5" height="76.5" fill="none" stroke="#9a9a9a" stroke-width="1"/>
<line x1="309" y1="477.50" x2="311" y2="477.50" stroke="#666" stroke-width="0.8"/>
<text x="308.00" y="479.40" font-family="Liberation Sans, sans-serif" font-size="5.5" font-weight="normal" text-anchor="end" fill="#2a2a2a" >0</text>
<line x1="309" y1="458.00" x2="311" y2="458.00" stroke="#666" stroke-width="0.8"/>
<text x="308.00" y="459.90" font-family="Liberation Sans, sans-serif" font-size="5.5" font-weight="normal" text-anchor="end" fill="#2a2a2a" >200</text>
<line x1="309" y1="438.50" x2="311" y2="438.50" stroke="#666" stroke-width="0.8"/>
<text x="308.00" y="440.40" font-family="Liberation Sans, sans-serif" font-size="5.5" font-weight="normal" text-anchor="end" fill="#2a2a2a" >400</text>
<line x1="309" y1="419.00" x2="311" y2="419.00" stroke="#666" stroke-width="0.8"/>
<text x="308.00" y="420.90" font-family="Liberation Sans, sans-serif" font-size="5.5" font-weight="normal" text-anchor="end" fill="#2a2a2a" >600</text>
<line x1="330.38" y1="477.5" x2="330.38" y2="479.5" stroke="#777" stroke-width="0.7"/>
<text x="329.38" y="488.20" font-family="Liberation Sans, sans-serif" font-size="5.5" fill="#2a2a2a" text-anchor="middle">10<tspan dy="-2.2" font-size="3.8">0</tspan></text>
<line x1="349.75" y1="477.5" x2="349.75" y2="479.5" stroke="#777" stroke-width="0.7"/>
<text x="348.75" y="488.20" font-family="Liberation Sans, sans-serif" font-size="5.5" fill="#2a2a2a" text-anchor="middle">10<tspan dy="-2.2" font-size="3.8">1</tspan></text>
<line x1="369.12" y1="477.5" x2="369.12" y2="479.5" stroke="#777" stroke-width="0.7"/>
<text x="368.12" y="488.20" font-family="Liberation Sans, sans-serif" font-size="5.5" fill="#2a2a2a" text-anchor="middle">10<tspan dy="-2.2" font-size="3.8">2</tspan></text>
<line x1="388.50" y1="477.5" x2="388.50" y2="479.5" stroke="#777" stroke-width="0.7"/>
<text x="387.50" y="488.20" font-family="Liberation Sans, sans-serif" font-size="5.5" fill="#2a2a2a" text-anchor="middle">10<tspan dy="-2.2" font-size="3.8">3</tspan></text>
<line x1="311" y1="477.5" x2="388.5" y2="477.5" stroke="#555" stroke-width="1"/>
<line x1="416.5" y1="408.50" x2="477.00" y2="408.50" stroke="#8a8a8a" stroke-width="0.9"/>
<line x1="477.00" y1="406.70" x2="477.00" y2="410.30" stroke="#666" stroke-width="0.9"/>
<rect x="417.30" y="402.40" width="29.80" height="5.6" fill="#fff" stroke="#6a6a6a" stroke-width="0.6"/>
<text x="418.20" y="406.80" font-family="Liberation Sans, sans-serif" font-size="4.6" fill="#111" textLength="28.00" lengthAdjust="spacingAndGlyphs">CI : 100.00%</text>
<line x1="416.5" y1="414.50" x2="471.70" y2="414.50" stroke="#8a8a8a" stroke-width="0.9"/>
<line x1="471.70" y1="412.70" x2="471.70" y2="416.30" stroke="#666" stroke-width="0.9"/>
<rect x="417.30" y="409.00" width="27.50" height="5.6" fill="#fff" stroke="#6a6a6a" stroke-width="0.6"/>
<text x="418.20" y="413.40" font-family="Liberation Sans, sans-serif" font-size="4.6" fill="#111" textLength="25.70" lengthAdjust="spacingAndGlyphs">CE : 32.24%</text>
<line x1="416.5" y1="420.50" x2="466.00" y2="420.50" stroke="#8a8a8a" stroke-width="0.9"/>
<line x1="466.00" y1="418.70" x2="466.00" y2="422.30" stroke="#666" stroke-width="0.9"/>
<rect x="417.30" y="415.40" width="25.20" height="5.6" fill="#fff" stroke="#6a6a6a" stroke-width="0.6"/>
<text x="418.20" y="419.80" font-family="Liberation Sans, sans-serif" font-size="4.6" fill="#111" textLength="23.40" lengthAdjust="spacingAndGlyphs">CF : 6.50%</text>
<line x1="416.5" y1="426.50" x2="460.10" y2="426.50" stroke="#8a8a8a" stroke-width="0.9"/>
<line x1="460.10" y1="424.70" x2="460.10" y2="428.30" stroke="#666" stroke-width="0.9"/>
<rect x="417.30" y="421.40" width="25.20" height="5.6" fill="#fff" stroke="#6a6a6a" stroke-width="0.6"/>
<text x="418.20" y="425.80" font-family="Liberation Sans, sans-serif" font-size="4.6" fill="#111" textLength="23.40" lengthAdjust="spacingAndGlyphs">CH : 1.55%</text>
<line x1="416.5" y1="432.50" x2="455.20" y2="432.50" stroke="#8a8a8a" stroke-width="0.9"/>
<line x1="455.20" y1="430.70" x2="455.20" y2="434.30" stroke="#666" stroke-width="0.9"/>
<rect x="417.30" y="427.40" width="25.20" height="5.6" fill="#fff" stroke="#6a6a6a" stroke-width="0.6"/>
<text x="418.20" y="431.80" font-family="Liberation Sans, sans-serif" font-size="4.6" fill="#111" textLength="23.40" lengthAdjust="spacingAndGlyphs">CG : 0.00%</text>
<line x1="416.5" y1="438.50" x2="449.50" y2="438.50" stroke="#8a8a8a" stroke-width="0.9"/>
<line x1="449.50" y1="436.70" x2="449.50" y2="440.30" stroke="#666" stroke-width="0.9"/>
<rect x="417.30" y="433.40" width="25.20" height="5.6" fill="#fff" stroke="#6a6a6a" stroke-width="0.6"/>
<text x="418.20" y="437.80" font-family="Liberation Sans, sans-serif" font-size="4.6" fill="#111" textLength="23.40" lengthAdjust="spacingAndGlyphs">CJ : 0.00%</text>
<path d="M458.50,477.50L458.50,477.50L458.95,477.43L459.40,477.36L459.85,477.29L460.30,477.22L460.75,477.15L461.20,477.09L461.65,477.00L462.10,476.94L462.55,476.86L463.00,476.81L463.45,476.73L463.90,476.64L464.35,476.57L464.80,476.48L465.25,476.44L465.70,476.37L466.15,476.30L466.60,476.20L467.05,475.81L467.50,475.41L467.95,474.88L468.40,474.47L468.85,474.04L469.30,473.47L469.75,473.11L470.20,472.37L470.65,471.04L471.10,469.63L471.55,468.27L472.00,465.88L472.45,461.76L472.90,457.65L473.35,453.56L473.80,450.44L474.25,447.39L474.70,444.26L475.15,443.51L475.60,447.23L476.05,450.64L476.50,453.67L476.95,456.49L477.40,457.70L477.85,453.46L478.30,449.03L478.75,444.58L479.20,437.18L479.65,429.49L480.10,421.96L480.55,415.04L481.00,411.97L481.45,409.72L481.90,406.83L482.35,406.92L482.80,411.94L483.25,416.91L483.70,425.51L484.15,436.06L484.60,446.21L485.05,455.53L485.50,464.97L485.95,471.13L486.40,473.97L486.85,476.76L487.30,477.27L487.50,477.50Z" fill="#686868" stroke="#4a4a4a" stroke-width="0.6"/>
<rect x="416.5" y="401" width="77.5" height="76.5" fill="none" stroke="#9a9a9a" stroke-width="1"/>
<line x1="414.5" y1="477.50" x2="416.5" y2="477.50" stroke="#666" stroke-width="0.8"/>
<text x="413.50" y="479.40" font-family="Liberation Sans, sans-serif" font-size="5.5" font-weight="normal" text-anchor="end" fill="#2a2a2a" >0</text>
<line x1="414.5" y1="460.60" x2="416.5" y2="460.60" stroke="#666" stroke-width="0.8"/>
<text x="413.50" y="462.50" font-family="Liberation Sans, sans-serif" font-size="5.5" font-weight="normal" text-anchor="end" fill="#2a2a2a" >100</text>
<line x1="414.5" y1="443.70" x2="416.5" y2="443.70" stroke="#666" stroke-width="0.8"/>
<text x="413.50" y="445.60" font-family="Liberation Sans, sans-serif" font-size="5.5" font-weight="normal" text-anchor="end" fill="#2a2a2a" >200</text>
<line x1="414.5" y1="426.80" x2="416.5" y2="426.80" stroke="#666" stroke-width="0.8"/>
<text x="413.50" y="428.70" font-family="Liberation Sans, sans-serif" font-size="5.5" font-weight="normal" text-anchor="end" fill="#2a2a2a" >300</text>
<line x1="414.5" y1="409.90" x2="416.5" y2="409.90" stroke="#666" stroke-width="0.8"/>
<text x="413.50" y="411.80" font-family="Liberation Sans, sans-serif" font-size="5.5" font-weight="normal" text-anchor="end" fill="#2a2a2a" >400</text>
<line x1="435.88" y1="477.5" x2="435.88" y2="479.5" stroke="#777" stroke-width="0.7"/>
<text x="434.88" y="488.20" font-family="Liberation Sans, sans-serif" font-size="5.5" fill="#2a2a2a" text-anchor="middle">10<tspan dy="-2.2" font-size="3.8">0</tspan></text>
<line x1="455.25" y1="477.5" x2="455.25" y2="479.5" stroke="#777" stroke-width="0.7"/>
<text x="454.25" y="488.20" font-family="Liberation Sans, sans-serif" font-size="5.5" fill="#2a2a2a" text-anchor="middle">10<tspan dy="-2.2" font-size="3.8">1</tspan></text>
<line x1="474.62" y1="477.5" x2="474.62" y2="479.5" stroke="#777" stroke-width="0.7"/>
<text x="473.62" y="488.20" font-family="Liberation Sans, sans-serif" font-size="5.5" fill="#2a2a2a" text-anchor="middle">10<tspan dy="-2.2" font-size="3.8">2</tspan></text>
<line x1="494.00" y1="477.5" x2="494.00" y2="479.5" stroke="#777" stroke-width="0.7"/>
<text x="493.00" y="488.20" font-family="Liberation Sans, sans-serif" font-size="5.5" fill="#2a2a2a" text-anchor="middle">10<tspan dy="-2.2" font-size="3.8">3</tspan></text>
<line x1="416.5" y1="477.5" x2="494" y2="477.5" stroke="#555" stroke-width="1"/>
<g transform="translate(23.70,62.00) rotate(-90)"><text x="0" y="3.10" font-family="Liberation Sans, sans-serif" font-size="8.6" font-weight="bold" text-anchor="middle" fill="#111" textLength="45.5" lengthAdjust="spacingAndGlyphs">Unstim. T cells</text></g>
<g transform="translate(23.70,154.60) rotate(-90)"><text x="0" y="3.10" font-family="Liberation Sans, sans-serif" font-size="8.6" font-weight="bold" text-anchor="middle" fill="#111" textLength="38" lengthAdjust="spacingAndGlyphs">Stim. T cells</text></g>
<g transform="translate(12.30,250.20) rotate(-90)"><text x="0" y="3.10" font-family="Liberation Sans, sans-serif" font-size="8.6" font-weight="bold" text-anchor="middle" fill="#111" textLength="43.6" lengthAdjust="spacingAndGlyphs">Stim. T cells +</text></g>
<g transform="translate(24.00,250.20) rotate(-90)"><text x="0" y="3.10" font-family="Liberation Sans, sans-serif" font-size="8.6" font-weight="bold" text-anchor="middle" fill="#111" textLength="35.4" lengthAdjust="spacingAndGlyphs">OSUCLL-tet</text></g>
<g transform="translate(12.30,345.20) rotate(-90)"><text x="0" y="3.10" font-family="Liberation Sans, sans-serif" font-size="8.6" font-weight="bold" text-anchor="middle" fill="#111" textLength="43.6" lengthAdjust="spacingAndGlyphs">Stim. T cells +</text></g>
<g transform="translate(24.00,345.20) rotate(-90)"><text x="0" y="3.10" font-family="Liberation Sans, sans-serif" font-size="8.6" font-weight="bold" text-anchor="middle" fill="#111" textLength="43.6" lengthAdjust="spacingAndGlyphs">OSUCLL-BRAF</text></g>
<g transform="translate(12.30,440.00) rotate(-90)"><text x="0" y="3.10" font-family="Liberation Sans, sans-serif" font-size="8.6" font-weight="bold" text-anchor="middle" fill="#111" textLength="44.3" lengthAdjust="spacingAndGlyphs">Stim. T cells +</text></g>
<g transform="translate(24.0,440) rotate(-90)"><text x="0" y="3.10" font-family="Liberation Sans, sans-serif" font-size="8.6" font-weight="bold" text-anchor="middle" fill="#111"><tspan textLength="44.3" lengthAdjust="spacingAndGlyphs">OSUCLL-BRAF</tspan><tspan dy="-4.2" font-size="5.6" textLength="16" lengthAdjust="spacingAndGlyphs">V600E</tspan></text></g>
<g transform="translate(277.80,59.00) rotate(-90)"><text x="0" y="3.10" font-family="Liberation Sans, sans-serif" font-size="8.6" font-weight="bold" text-anchor="middle" fill="#111" textLength="45.5" lengthAdjust="spacingAndGlyphs">Unstim. T cells</text></g>
<g transform="translate(289.00,59.30) rotate(-90)"><text x="0" y="3.10" font-family="Liberation Sans, sans-serif" font-size="8.6" font-weight="bold" text-anchor="middle" fill="#111" textLength="23.7" lengthAdjust="spacingAndGlyphs">+DMSO</text></g>
<g transform="translate(277.70,157.10) rotate(-90)"><text x="0" y="3.10" font-family="Liberation Sans, sans-serif" font-size="8.6" font-weight="bold" text-anchor="middle" fill="#111" textLength="38.2" lengthAdjust="spacingAndGlyphs">Stim. T cells</text></g>
<g transform="translate(289.00,156.00) rotate(-90)"><text x="0" y="3.10" font-family="Liberation Sans, sans-serif" font-size="8.6" font-weight="bold" text-anchor="middle" fill="#111" textLength="23" lengthAdjust="spacingAndGlyphs">+DMSO</text></g>
<g transform="translate(267.20,251.50) rotate(-90)"><text x="0" y="3.10" font-family="Liberation Sans, sans-serif" font-size="8.6" font-weight="bold" text-anchor="middle" fill="#111" textLength="43" lengthAdjust="spacingAndGlyphs">Stim. T cells +</text></g>
<g transform="translate(277.2,250.2) rotate(-90)"><text x="0" y="3.10" font-family="Liberation Sans, sans-serif" font-size="8.6" font-weight="bold" text-anchor="middle" fill="#111"><tspan textLength="43.5" lengthAdjust="spacingAndGlyphs">OSUCLL-BRAF</tspan><tspan dy="-4.2" font-size="5.6" textLength="16" lengthAdjust="spacingAndGlyphs">V600E</tspan></text></g>
<g transform="translate(290.50,250.50) rotate(-90)"><text x="0" y="3.10" font-family="Liberation Sans, sans-serif" font-size="8.6" font-weight="bold" text-anchor="middle" fill="#111" textLength="23.7" lengthAdjust="spacingAndGlyphs">+DMSO</text></g>
<g transform="translate(277.20,345.00) rotate(-90)"><text x="0" y="3.10" font-family="Liberation Sans, sans-serif" font-size="8.6" font-weight="bold" text-anchor="middle" fill="#111" textLength="37.4" lengthAdjust="spacingAndGlyphs">Stim. T cells</text></g>
<g transform="translate(290.00,345.20) rotate(-90)"><text x="0" y="3.10" font-family="Liberation Sans, sans-serif" font-size="8.6" font-weight="bold" text-anchor="middle" fill="#111" textLength="36.8" lengthAdjust="spacingAndGlyphs">+dabrafenib</text></g>
<g transform="translate(267.20,440.00) rotate(-90)"><text x="0" y="3.10" font-family="Liberation Sans, sans-serif" font-size="8.6" font-weight="bold" text-anchor="middle" fill="#111" textLength="44.3" lengthAdjust="spacingAndGlyphs">Stim. T cells +</text></g>
<g transform="translate(277.2,439.5) rotate(-90)"><text x="0" y="3.10" font-family="Liberation Sans, sans-serif" font-size="8.6" font-weight="bold" text-anchor="middle" fill="#111"><tspan textLength="44" lengthAdjust="spacingAndGlyphs">OSUCLL-BRAF</tspan><tspan dy="-4.2" font-size="5.6" textLength="16" lengthAdjust="spacingAndGlyphs">V600E</tspan></text></g>
<g transform="translate(290.00,439.60) rotate(-90)"><text x="0" y="3.10" font-family="Liberation Sans, sans-serif" font-size="8.6" font-weight="bold" text-anchor="middle" fill="#111" textLength="36.8" lengthAdjust="spacingAndGlyphs">+dabrafenib</text></g>
<line x1="237.9" y1="375" x2="237.9" y2="407.3" stroke="#000" stroke-width="1.5"/>
<path d="M234.3,375.8 L237.9,368.6 L241.5,375.8 Z" fill="#000"/>
<g transform="translate(237.90,420.90) rotate(-90)"><text x="0" y="3.10" font-family="Liberation Sans, sans-serif" font-size="8.6" font-weight="normal" text-anchor="middle" fill="#000" textLength="18.7" lengthAdjust="spacingAndGlyphs">Count</text></g>
<line x1="507.0" y1="375" x2="507.0" y2="407.3" stroke="#000" stroke-width="1.5"/>
<path d="M503.4,375.8 L507.0,368.6 L510.6,375.8 Z" fill="#000"/>
<g transform="translate(507.00,420.90) rotate(-90)"><text x="0" y="3.10" font-family="Liberation Sans, sans-serif" font-size="8.6" font-weight="normal" text-anchor="middle" fill="#000" textLength="18.7" lengthAdjust="spacingAndGlyphs">Count</text></g>
<g transform="translate(117.7,498)"><text x="0" y="3.6" font-family="Liberation Sans, sans-serif" font-size="10.2" font-weight="bold" text-anchor="middle" textLength="16.3" lengthAdjust="spacingAndGlyphs">CFSE</text></g>
<line x1="130.8" y1="498" x2="165.1" y2="498" stroke="#000" stroke-width="1.5"/>
<path d="M163.6,494.4 L171.1,498 L163.6,501.6 Z" fill="#000"/>
<g transform="translate(380.2,498)"><text x="0" y="3.6" font-family="Liberation Sans, sans-serif" font-size="10.2" font-weight="bold" text-anchor="middle" textLength="16.3" lengthAdjust="spacingAndGlyphs">CFSE</text></g>
<line x1="393" y1="498" x2="427.5" y2="498" stroke="#000" stroke-width="1.5"/>
<path d="M426.0,494.4 L433.5,498 L426.0,501.6 Z" fill="#000"/>
<line x1="44.8" y1="532" x2="44.8" y2="663.2" stroke="#000" stroke-width="1.5"/>
<line x1="44" y1="663.2" x2="241.5" y2="663.2" stroke="#000" stroke-width="1.5"/>
<line x1="41.8" y1="663.20" x2="44.8" y2="663.20" stroke="#000" stroke-width="1.2"/>
<text x="38.80" y="666.10" font-family="Liberation Sans, sans-serif" font-size="8" font-weight="normal" text-anchor="end" fill="#222" >0</text>
<line x1="41.8" y1="631.20" x2="44.8" y2="631.20" stroke="#000" stroke-width="1.2"/>
<text x="38.80" y="634.10" font-family="Liberation Sans, sans-serif" font-size="8" font-weight="normal" text-anchor="end" fill="#222" >0.5</text>
<line x1="41.8" y1="599.20" x2="44.8" y2="599.20" stroke="#000" stroke-width="1.2"/>
<text x="38.80" y="602.10" font-family="Liberation Sans, sans-serif" font-size="8" font-weight="normal" text-anchor="end" fill="#222" >1.0</text>
<line x1="41.8" y1="567.20" x2="44.8" y2="567.20" stroke="#000" stroke-width="1.2"/>
<text x="38.80" y="570.10" font-family="Liberation Sans, sans-serif" font-size="8" font-weight="normal" text-anchor="end" fill="#222" >1.5</text>
<line x1="41.8" y1="535.20" x2="44.8" y2="535.20" stroke="#000" stroke-width="1.2"/>
<text x="38.80" y="538.10" font-family="Liberation Sans, sans-serif" font-size="8" font-weight="normal" text-anchor="end" fill="#222" >2.0</text>
<g transform="translate(18.00,597.40) rotate(-90)"><text x="0" y="3.02" font-family="Liberation Sans, sans-serif" font-size="8.4" font-weight="bold" text-anchor="middle" fill="#111" textLength="41.6" lengthAdjust="spacingAndGlyphs">Division index</text></g>
<rect x="90" y="560.80" width="11.20" height="102.40" fill="#000"/>
<line x1="95.60" y1="546.08" x2="95.60" y2="560.80" stroke="#000" stroke-width="1.2"/>
<line x1="93.00" y1="546.08" x2="98.20" y2="546.08" stroke="#000" stroke-width="1.2"/>
<rect x="105" y="579.68" width="11.20" height="83.52" fill="#808080"/>
<line x1="110.60" y1="579.04" x2="110.60" y2="579.68" stroke="#000" stroke-width="1.2"/>
<line x1="108.00" y1="579.04" x2="113.20" y2="579.04" stroke="#000" stroke-width="1.2"/>
<rect x="127.5" y="654.56" width="11.20" height="8.64" fill="#000"/>
<line x1="133.10" y1="653.15" x2="133.10" y2="654.56" stroke="#000" stroke-width="1.2"/>
<line x1="130.50" y1="653.15" x2="135.70" y2="653.15" stroke="#000" stroke-width="1.2"/>
<rect x="142.5" y="655.20" width="11.20" height="8.00" fill="#808080"/>
<line x1="148.10" y1="654.88" x2="148.10" y2="655.20" stroke="#000" stroke-width="1.2"/>
<line x1="145.50" y1="654.88" x2="150.70" y2="654.88" stroke="#000" stroke-width="1.2"/>
<rect x="165" y="654.24" width="11.20" height="8.96" fill="#000"/>
<line x1="170.60" y1="653.60" x2="170.60" y2="654.24" stroke="#000" stroke-width="1.2"/>
<line x1="168.00" y1="653.60" x2="173.20" y2="653.60" stroke="#000" stroke-width="1.2"/>
<rect x="180" y="652.64" width="11.20" height="10.56" fill="#808080"/>
<line x1="185.60" y1="652.13" x2="185.60" y2="652.64" stroke="#000" stroke-width="1.2"/>
<line x1="183.00" y1="652.13" x2="188.20" y2="652.13" stroke="#000" stroke-width="1.2"/>
<rect x="202.5" y="661.92" width="11.20" height="1.28" fill="#000"/>
<rect x="218" y="661.92" width="11.20" height="1.28" fill="#808080"/>
<rect x="211.2" y="534.3" width="8.8" height="8.5" fill="#000"/>
<rect x="211.2" y="547.1" width="8.8" height="8.5" fill="#808080"/>
<text x="223.00" y="541.80" font-family="Liberation Sans, sans-serif" font-size="8.7" font-weight="normal" text-anchor="start" fill="#222" >CD4</text>
<text x="223.00" y="554.60" font-family="Liberation Sans, sans-serif" font-size="8.7" font-weight="normal" text-anchor="start" fill="#222" >CD8</text>
<path d="M148,583.0 L148,579.5 L225,579.5 L225,583.0" fill="none" stroke="#000" stroke-width="1.2"/>
<text x="186.30" y="576.00" font-family="Liberation Sans, sans-serif" font-size="8.7" font-weight="normal" text-anchor="middle" fill="#222" >p&lt;0.001</text>
<path d="M186.3,604.0 L186.3,600.5 L225,600.5 L225,604.0" fill="none" stroke="#000" stroke-width="1.2"/>
<text x="205.00" y="597.00" font-family="Liberation Sans, sans-serif" font-size="8.7" font-weight="normal" text-anchor="middle" fill="#222" >p&lt;0.001</text>
<path d="M133,625.2 L133,621.7 L208.8,621.7 L208.8,625.2" fill="none" stroke="#000" stroke-width="1.2"/>
<text x="170.00" y="618.20" font-family="Liberation Sans, sans-serif" font-size="8.7" font-weight="normal" text-anchor="middle" fill="#222" >p&lt;0.001</text>
<path d="M171.3,646.8 L171.3,643.3 L208.8,643.3 L208.8,646.8" fill="none" stroke="#000" stroke-width="1.2"/>
<text x="189.50" y="639.80" font-family="Liberation Sans, sans-serif" font-size="8.7" font-weight="normal" text-anchor="middle" fill="#222" >p&lt;0.001</text>
<text x="66.30" y="675.60" font-family="Liberation Sans, sans-serif" font-size="8.2" font-weight="normal" text-anchor="middle" fill="#222" >unstim.</text>
<text x="66.30" y="686.40" font-family="Liberation Sans, sans-serif" font-size="8.2" font-weight="normal" text-anchor="middle" fill="#222" >T cells</text>
<text x="103.00" y="675.60" font-family="Liberation Sans, sans-serif" font-size="8.2" font-weight="normal" text-anchor="middle" fill="#222" >Ø</text>
<text x="140.30" y="676.20" font-family="Liberation Sans, sans-serif" font-size="8.2" font-weight="normal" text-anchor="middle" fill="#222" >+tet</text>
<text x="160.2" y="676.2" font-family="Liberation Sans, sans-serif" font-size="8.2" fill="#222">+BRAF<tspan dy="-3.2" font-size="5.8">WT</tspan></text>
<text x="201.8" y="676.2" font-family="Liberation Sans, sans-serif" font-size="8.2" fill="#222">+BRAF<tspan dy="-3.2" font-size="5.8">VE</tspan></text>
<path d="M87.5,680 L87.5,683.5 L242.5,683.5 L242.5,680" fill="none" stroke="#000" stroke-width="1.2"/>
<line x1="165" y1="683.5" x2="165" y2="687.5" stroke="#000" stroke-width="1.2"/>
<g transform="translate(166.2,695.5)"><text x="0" y="3.2" font-family="Liberation Sans, sans-serif" font-size="9" font-weight="normal" stroke="#111" stroke-width="0.25" text-anchor="middle" fill="#111" textLength="78.8" lengthAdjust="spacingAndGlyphs">T cells + anti-CD3/CD28</text></g>
<line x1="315" y1="532.5" x2="315" y2="663.3" stroke="#000" stroke-width="1.5"/>
<line x1="312.5" y1="663.3" x2="506.7" y2="663.3" stroke="#000" stroke-width="1.5"/>
<line x1="312" y1="663.30" x2="315" y2="663.30" stroke="#000" stroke-width="1.2"/>
<text x="308.50" y="666.20" font-family="Liberation Sans, sans-serif" font-size="8" font-weight="normal" text-anchor="end" fill="#222" >0</text>
<line x1="312" y1="631.30" x2="315" y2="631.30" stroke="#000" stroke-width="1.2"/>
<text x="308.50" y="634.20" font-family="Liberation Sans, sans-serif" font-size="8" font-weight="normal" text-anchor="end" fill="#222" >0.2</text>
<line x1="312" y1="599.30" x2="315" y2="599.30" stroke="#000" stroke-width="1.2"/>
<text x="308.50" y="602.20" font-family="Liberation Sans, sans-serif" font-size="8" font-weight="normal" text-anchor="end" fill="#222" >0.4</text>
<line x1="312" y1="567.30" x2="315" y2="567.30" stroke="#000" stroke-width="1.2"/>
<text x="308.50" y="570.20" font-family="Liberation Sans, sans-serif" font-size="8" font-weight="normal" text-anchor="end" fill="#222" >0.6</text>
<line x1="312" y1="535.30" x2="315" y2="535.30" stroke="#000" stroke-width="1.2"/>
<text x="308.50" y="538.20" font-family="Liberation Sans, sans-serif" font-size="8" font-weight="normal" text-anchor="end" fill="#222" >0.8</text>
<g transform="translate(287.50,597.40) rotate(-90)"><text x="0" y="3.02" font-family="Liberation Sans, sans-serif" font-size="8.4" font-weight="bold" text-anchor="middle" fill="#111" textLength="41.6" lengthAdjust="spacingAndGlyphs">Division index</text></g>
<rect x="320.8" y="660.10" width="9.70" height="3.20" fill="#000"/>
<rect x="337.5" y="660.10" width="9.50" height="3.20" fill="#808080"/>
<rect x="359.3" y="597.70" width="10.00" height="65.60" fill="#000"/>
<line x1="364.30" y1="586.50" x2="364.30" y2="597.70" stroke="#000" stroke-width="1.2"/>
<line x1="361.90" y1="586.50" x2="366.70" y2="586.50" stroke="#000" stroke-width="1.2"/>
<rect x="375.8" y="588.90" width="9.20" height="74.40" fill="#808080"/>
<line x1="380.40" y1="575.30" x2="380.40" y2="588.90" stroke="#000" stroke-width="1.2"/>
<line x1="378.00" y1="575.30" x2="382.80" y2="575.30" stroke="#000" stroke-width="1.2"/>
<rect x="398" y="659.30" width="9.50" height="4.00" fill="#000"/>
<line x1="402.75" y1="658.66" x2="402.75" y2="659.30" stroke="#000" stroke-width="1.2"/>
<line x1="400.35" y1="658.66" x2="405.15" y2="658.66" stroke="#000" stroke-width="1.2"/>
<rect x="415" y="656.90" width="9.50" height="6.40" fill="#808080"/>
<line x1="419.75" y1="656.10" x2="419.75" y2="656.90" stroke="#000" stroke-width="1.2"/>
<line x1="417.35" y1="656.10" x2="422.15" y2="656.10" stroke="#000" stroke-width="1.2"/>
<rect x="437" y="563.30" width="9.30" height="100.00" fill="#000"/>
<line x1="441.65" y1="562.34" x2="441.65" y2="563.30" stroke="#000" stroke-width="1.2"/>
<line x1="439.25" y1="562.34" x2="444.05" y2="562.34" stroke="#000" stroke-width="1.2"/>
<rect x="453.8" y="573.70" width="9.20" height="89.60" fill="#808080"/>
<line x1="458.40" y1="560.10" x2="458.40" y2="573.70" stroke="#000" stroke-width="1.2"/>
<line x1="456.00" y1="560.10" x2="460.80" y2="560.10" stroke="#000" stroke-width="1.2"/>
<rect x="475.8" y="637.70" width="9.20" height="25.60" fill="#000"/>
<line x1="480.40" y1="632.10" x2="480.40" y2="637.70" stroke="#000" stroke-width="1.2"/>
<line x1="478.00" y1="632.10" x2="482.80" y2="632.10" stroke="#000" stroke-width="1.2"/>
<rect x="492.5" y="634.50" width="9.30" height="28.80" fill="#808080"/>
<line x1="497.15" y1="632.26" x2="497.15" y2="634.50" stroke="#000" stroke-width="1.2"/>
<line x1="494.75" y1="632.26" x2="499.55" y2="632.26" stroke="#000" stroke-width="1.2"/>
<line x1="334" y1="663.3" x2="334" y2="666.5" stroke="#000" stroke-width="1.1"/>
<line x1="373" y1="663.3" x2="373" y2="666.5" stroke="#000" stroke-width="1.1"/>
<line x1="411" y1="663.3" x2="411" y2="666.5" stroke="#000" stroke-width="1.1"/>
<line x1="449.5" y1="663.3" x2="449.5" y2="666.5" stroke="#000" stroke-width="1.1"/>
<line x1="488.5" y1="663.3" x2="488.5" y2="666.5" stroke="#000" stroke-width="1.1"/>
<rect x="324.5" y="534.2" width="8.5" height="8.6" fill="#000"/>
<rect x="324.5" y="547" width="8.5" height="8.6" fill="#808080"/>
<text x="336.80" y="541.80" font-family="Liberation Sans, sans-serif" font-size="8.5" font-weight="normal" text-anchor="start" fill="#222" >CD4</text>
<text x="336.80" y="554.60" font-family="Liberation Sans, sans-serif" font-size="8.5" font-weight="normal" text-anchor="start" fill="#222" >CD8</text>
<path d="M418,527.3 L418,523.8 L498.3,523.8 L498.3,527.3" fill="none" stroke="#000" stroke-width="1.2"/>
<text x="458.00" y="520.30" font-family="Liberation Sans, sans-serif" font-size="8.7" font-weight="normal" text-anchor="middle" fill="#222" >p=0.006</text>
<path d="M405,548.1 L405,544.6 L481.3,544.6 L481.3,548.1" fill="none" stroke="#000" stroke-width="1.2"/>
<text x="443.00" y="541.10" font-family="Liberation Sans, sans-serif" font-size="8.7" font-weight="normal" text-anchor="middle" fill="#222" >p=0.003</text>
<text x="334.00" y="677.20" font-family="Liberation Sans, sans-serif" font-size="8.4" font-weight="normal" text-anchor="middle" fill="#222" >T</text>
<text x="373.00" y="677.20" font-family="Liberation Sans, sans-serif" font-size="8.4" font-weight="normal" text-anchor="middle" fill="#222" >T</text>
<text x="399.2" y="677.2" font-family="Liberation Sans, sans-serif" font-size="8.4" fill="#222">T+B<tspan dy="-3.2" font-size="6">VE</tspan></text>
<text x="450.00" y="677.20" font-family="Liberation Sans, sans-serif" font-size="8.4" font-weight="normal" text-anchor="middle" fill="#222" >T</text>
<text x="476.8" y="677.2" font-family="Liberation Sans, sans-serif" font-size="8.4" fill="#222">T+B<tspan dy="-3.2" font-size="6">VE</tspan></text>
<line x1="359.5" y1="682.5" x2="424.5" y2="682.5" stroke="#000" stroke-width="1.1"/>
<line x1="437" y1="682.5" x2="501.9" y2="682.5" stroke="#000" stroke-width="1.1"/>
<text x="391.50" y="694.90" font-family="Liberation Sans, sans-serif" font-size="8.6" font-weight="normal" text-anchor="middle" fill="#222" >DMSO</text>
<text x="471.50" y="694.90" font-family="Liberation Sans, sans-serif" font-size="8.4" font-weight="normal" text-anchor="middle" fill="#222" >dabrafenib</text>
<line x1="359.5" y1="700.5" x2="501.9" y2="700.5" stroke="#000" stroke-width="1.1"/>
<g transform="translate(435.6,708.3)"><text x="0" y="3.2" font-family="Liberation Sans, sans-serif" font-size="9" font-weight="normal" stroke="#111" stroke-width="0.25" text-anchor="middle" fill="#111" textLength="62.5" lengthAdjust="spacingAndGlyphs">+ anti-CD3/CD28</text></g>
<rect x="0.75" y="0.75" width="518.5" height="720.5" fill="none" stroke="#000" stroke-width="1.5"/>
</svg></body></html>
